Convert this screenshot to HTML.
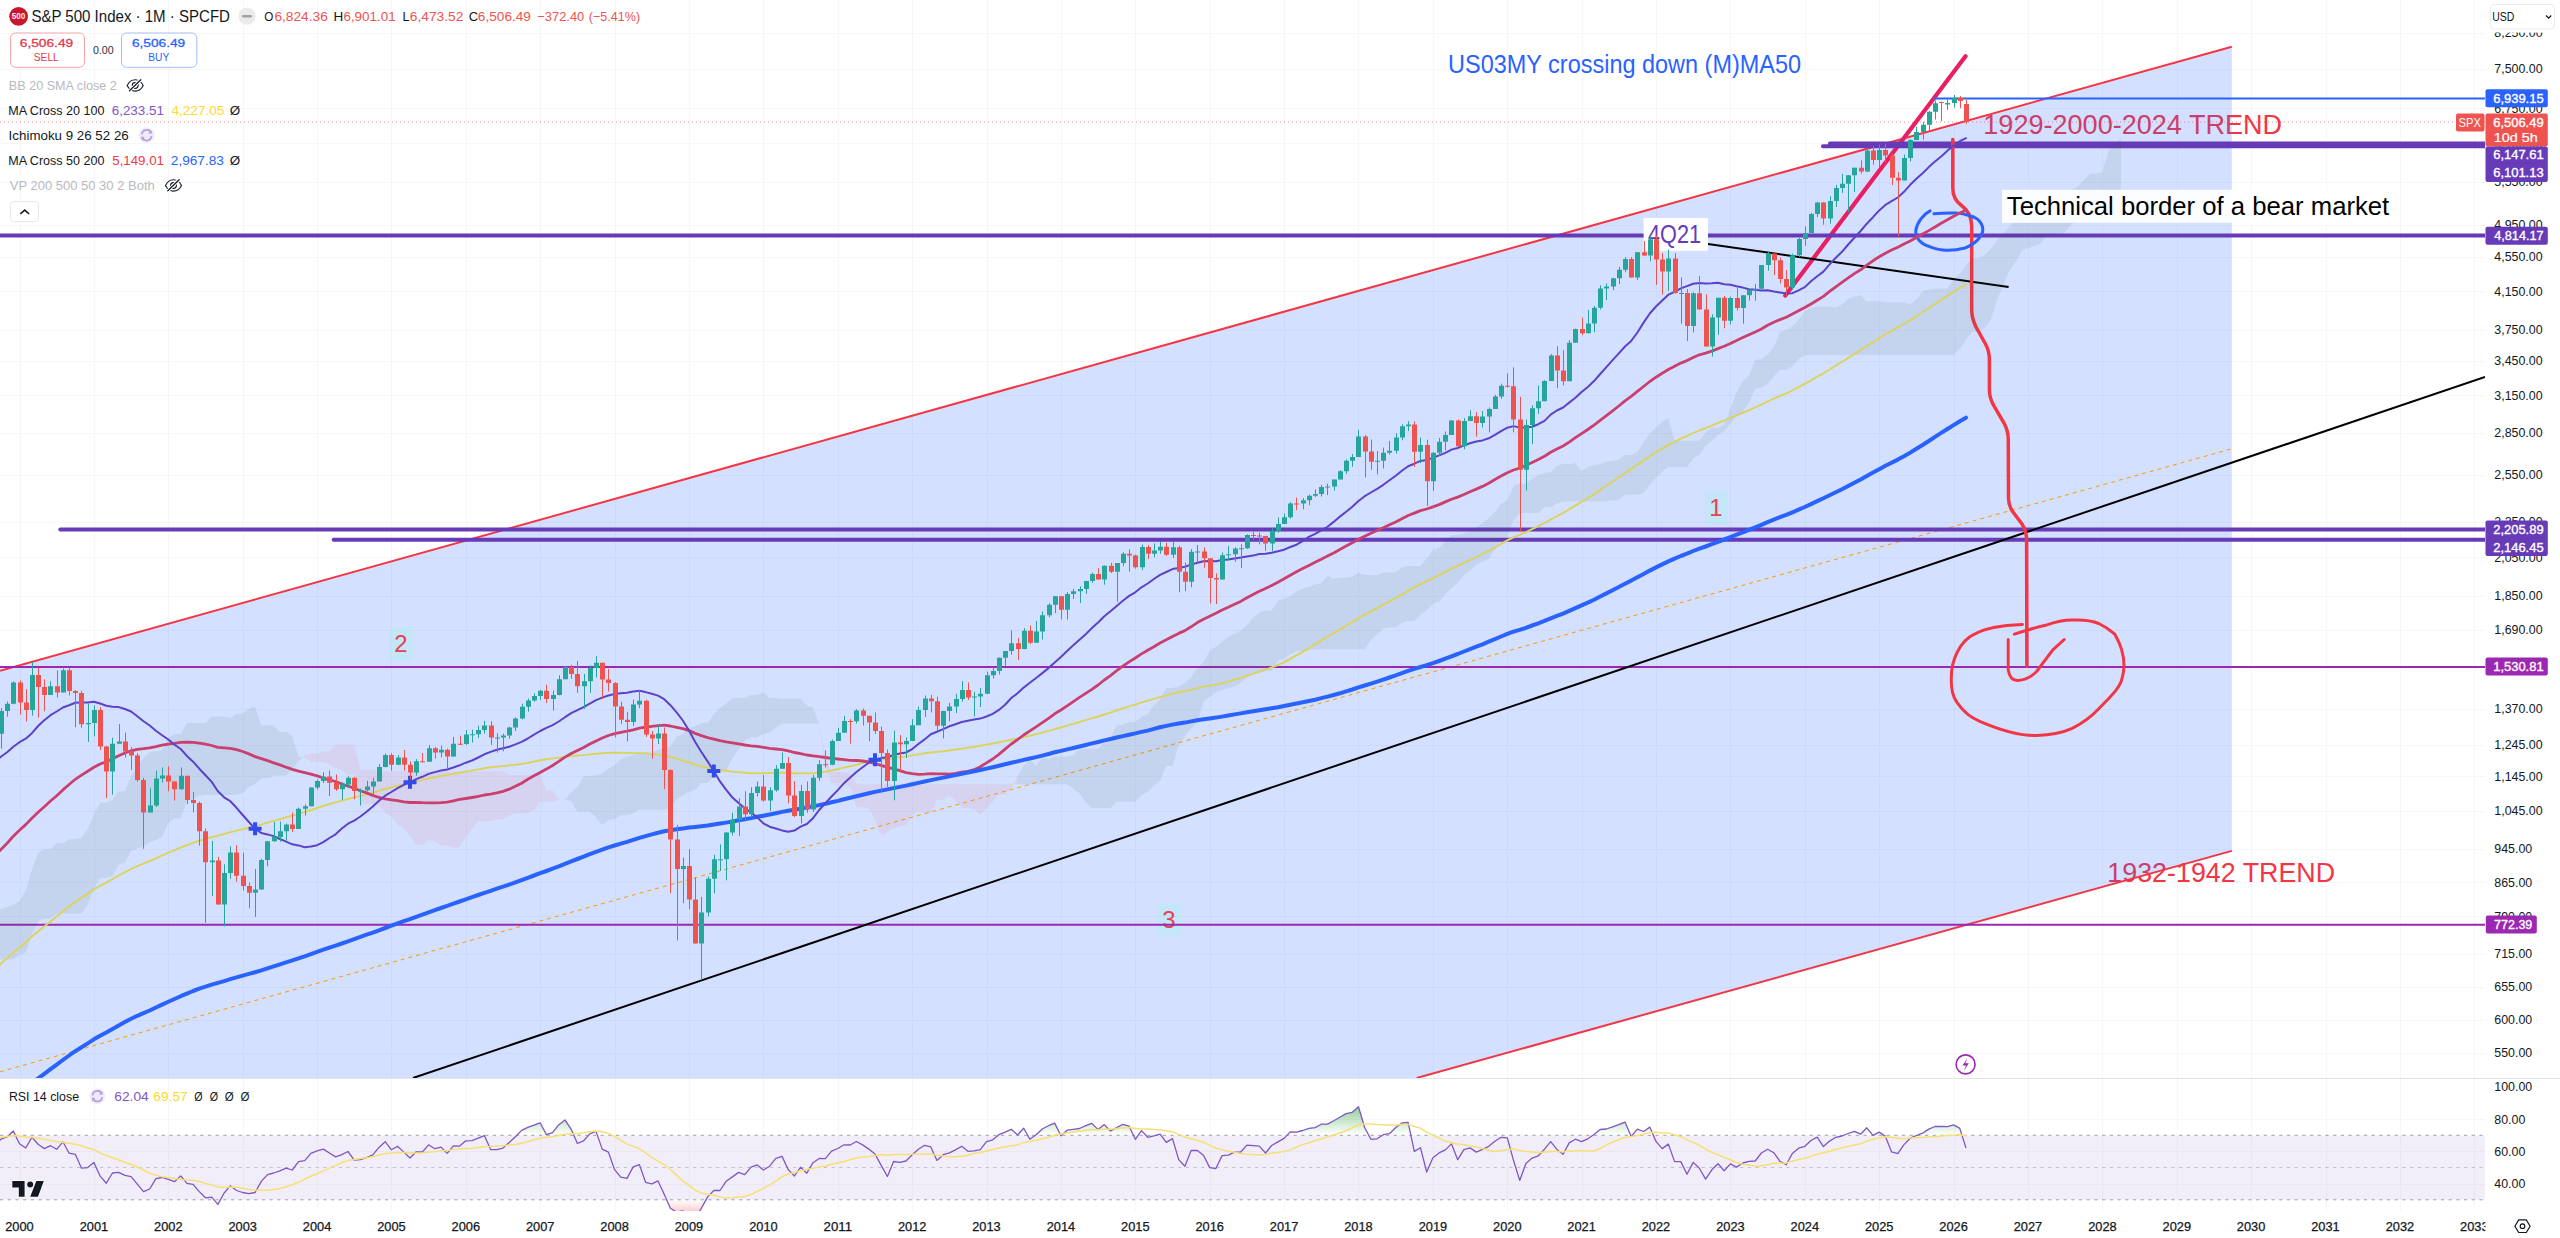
<!DOCTYPE html>
<html><head><meta charset="utf-8"><title>S&amp;P 500 Index chart</title>
<style>html,body{margin:0;padding:0;background:#fff;width:2560px;height:1238px;overflow:hidden}</style>
</head><body>
<svg width="2560" height="1238" viewBox="0 0 2560 1238" style="display:block;font-family:'Liberation Sans',sans-serif">
<rect width="2560" height="1238" fill="#ffffff"/>
<defs><clipPath id="cm"><rect x="0" y="0" width="2485" height="1078"/></clipPath><clipPath id="cr"><rect x="0" y="1079" width="2485" height="132"/></clipPath><linearGradient id="obg" gradientUnits="userSpaceOnUse" x1="0" y1="1086.9" x2="0" y2="1135.3"><stop offset="0" stop-color="#4caf50" stop-opacity="1"/><stop offset="1" stop-color="#4caf50" stop-opacity="0"/></linearGradient><linearGradient id="osg" gradientUnits="userSpaceOnUse" x1="0" y1="1199.8" x2="0" y2="1248.2"><stop offset="0" stop-color="#f23645" stop-opacity="0"/><stop offset="1" stop-color="#f23645" stop-opacity="1"/></linearGradient></defs>
<path d="M0 33.5H2485M0 69.5H2485M0 108.5H2485M0 143.5H2485M0 182.5H2485M0 225.5H2485M0 257.5H2485M0 291.5H2485M0 330.5H2485M0 361.5H2485M0 395.5H2485M0 433.5H2485M0 475.5H2485M0 522.5H2485M0 557.5H2485M0 596.5H2485M0 630.5H2485M0 667.5H2485M0 709.5H2485M0 745.5H2485M0 776.5H2485M0 811.5H2485M0 849.5H2485M0 882.5H2485M0 916.5H2485M0 954.5H2485M0 987.5H2485M0 1020.5H2485M0 1053.5H2485M20.5 0V1211M94.5 0V1211M168.5 0V1211M243.5 0V1211M317.5 0V1211M391.5 0V1211M466.5 0V1211M540.5 0V1211M615.5 0V1211M689.5 0V1211M763.5 0V1211M838.5 0V1211M912.5 0V1211M987.5 0V1211M1061.5 0V1211M1135.5 0V1211M1210.5 0V1211M1284.5 0V1211M1358.5 0V1211M1433.5 0V1211M1507.5 0V1211M1582.5 0V1211M1656.5 0V1211M1730.5 0V1211M1805.5 0V1211M1879.5 0V1211M1954.5 0V1211M2028.5 0V1211M2102.5 0V1211M2177.5 0V1211M2251.5 0V1211M2326.5 0V1211M2400.5 0V1211M2474.5 0V1211M0 1119.5H2485M0 1151.5H2485M0 1184.5H2485" stroke="#f7f7f8" stroke-width="1" fill="none"/>
<g clip-path="url(#cm)">
<text x="1983.30" y="133.8" font-size="28.5" font-weight="normal" fill="#f23645" textLength="298.83" lengthAdjust="spacingAndGlyphs" >1929-2000-2024 TREND</text>
<text x="2107.29" y="881.5" font-size="28.2" font-weight="normal" fill="#f23645" textLength="227.87" lengthAdjust="spacingAndGlyphs" >1932-1942 TREND</text>
<polygon points="0,670.8 2231.8,46.7 2231.8,850.9 1416.7,1078 0,1078" fill="rgba(41,98,255,0.2)"/>
<line x1="0" y1="670.8" x2="2231.8" y2="46.7" stroke="#f23645" stroke-width="2"/>
<line x1="1416.7" y1="1078" x2="2231.8" y2="850.9" stroke="#f23645" stroke-width="2"/>
<line x1="0" y1="1071.8" x2="2231.8" y2="448.8" stroke="#ff9800" stroke-width="1" stroke-dasharray="4 4"/>
<line x1="1785.3" y1="295.6" x2="1965.5" y2="56.3" stroke="#e91e63" stroke-width="4.2" stroke-linecap="round"/>
<rect x="1704.7" y="491" width="23.3" height="33" fill="rgba(178,235,242,0.5)"/>
<text x="1716" y="516" font-size="24" fill="#e8404f" text-anchor="middle">1</text>
<rect x="389" y="627" width="24" height="33" fill="rgba(178,235,242,0.5)"/>
<text x="401" y="652" font-size="24" fill="#e8404f" text-anchor="middle">2</text>
<rect x="1157" y="903" width="24" height="33" fill="rgba(178,235,242,0.5)"/>
<text x="1169" y="928" font-size="24" fill="#e8404f" text-anchor="middle">3</text>
<line x1="0" y1="667.1" x2="2485" y2="667.1" stroke="#9c27b0" stroke-width="2"/>
<line x1="0" y1="924.8" x2="2485" y2="924.8" stroke="#9c27b0" stroke-width="2"/>
<line x1="0" y1="235.5" x2="2485" y2="235.5" stroke="#673ab7" stroke-width="4"/>
<line x1="60.3" y1="529.5" x2="2485" y2="529.5" stroke="#673ab7" stroke-width="4" stroke-linecap="round"/>
<line x1="333.7" y1="539.8" x2="2485" y2="539.8" stroke="#673ab7" stroke-width="4" stroke-linecap="round"/>
<line x1="1823" y1="146.3" x2="2485" y2="146.3" stroke="#673ab7" stroke-width="4" stroke-linecap="round"/>
<line x1="1830" y1="143.4" x2="2485" y2="143.4" stroke="#673ab7" stroke-width="4" stroke-linecap="round"/>
<line x1="1933" y1="98.6" x2="2485" y2="98.6" stroke="#2962ff" stroke-width="2"/>
<line x1="0" y1="122.0" x2="2485" y2="122.0" stroke="#f23645" stroke-width="1" stroke-dasharray="1 3" opacity="0.6"/>
<line x1="413" y1="1078" x2="2485" y2="377" stroke="#000000" stroke-width="2"/>
<line x1="1708" y1="244" x2="2008.6" y2="287" stroke="#000000" stroke-width="2"/>
<path d="M1952.8 139.5 L1952.8 188 Q1952.8 199 1961 205 Q1971.7 213 1971.7 226 L1971.7 310 Q1971.7 318 1976 327 L1985.5 344 Q1989.4 351 1989.4 360 L1989.4 390 Q1989.4 398 1994 406 L2004 423 Q2008.3 431 2008.3 440 L2008.5 498 Q2008.5 506 2013 512 L2022 524 Q2026.5 531 2026.6 540 L2026.9 666.2" fill="none" stroke="#f23645" stroke-width="3.5" stroke-linejoin="round" stroke-linecap="round"/>
<path d="M2008.2 639.5 L2008.2 669.7 Q2010 681 2018 680.4 Q2028 680 2036.6 671.5 L2052.6 650.2 L2064.2 639.5" fill="none" stroke="#f23645" stroke-width="3" stroke-linecap="round" stroke-linejoin="round"/>
<path d="M2022.4 624.4 C2005 625 1985 628 1974.4 634.2 C1960 641 1951 660 1951.3 678.6 C1951 690 1953 697 1956.7 702 C1965 714 1972 718 1979.8 721.3 C2000 730 2020 736 2036.6 735.5 C2052 735 2062 733 2072.2 728.4 C2085 722 2092 716 2098.8 708.8 C2110 697 2120 688 2122 678.6 C2126 665 2124 650 2114.8 634.2 C2108 628 2104 626 2098.8 623.5 C2088 619 2080 620 2072.2 620 C2060 620 2052 623 2045.5 625.3 C2033 628 2024 631 2014.4 634.2" fill="none" stroke="#f23645" stroke-width="3" stroke-linecap="round"/>
<path d="M1930.1 210.9 C1924 214 1917 222 1915.8 230.5 C1915 238 1921 244 1930.1 246.8 C1936 249 1941 250.2 1946.1 250.2 C1954 250.5 1961 249 1965 248 C1971 246 1980 240 1982.6 232 C1984 224 1978 218 1970.8 216 C1966 214.5 1961 213.3 1956.3 213.1 C1948 212.8 1940 213.2 1934 213.8" fill="none" stroke="#2962ff" stroke-width="3" stroke-linecap="round"/>
<rect x="1643.6" y="218" width="64.4" height="32.8" fill="#ffffff"/>
<text x="1648.00" y="242.9" font-size="25" font-weight="normal" fill="#673ab7" textLength="53.02" lengthAdjust="spacingAndGlyphs" >4Q21</text>
<text x="1448.11" y="73.4" font-size="24.9" font-weight="normal" fill="#2962ff" textLength="352.98" lengthAdjust="spacingAndGlyphs" >US03MY crossing down (M)MA50</text>
<circle cx="1965.6" cy="1064.4" r="9.5" fill="#ffffff" stroke="#9c27b0" stroke-width="1.6"/>
<path d="M1967.5 1058 L1962.5 1065.5 L1966 1065.5 L1963.8 1071 L1968.8 1063.2 L1965.3 1063.2 Z" fill="#9c27b0"/>
<polygon points="-23.9,953.8 -17.7,937.9 -11.5,916.2 -5.3,910.8 0.9,908.8 7.1,906.9 13.3,904.5 19.5,900.9 25.7,891.1 31.9,869.8 38.1,853.0 44.3,849.1 50.5,849.1 56.7,843.2 62.9,843.2 69.1,839.3 75.3,839.1 81.5,838.0 87.7,828.9 93.9,814.8 100.1,802.5 106.3,802.5 112.5,799.9 118.7,791.3 124.9,791.3 131.1,776.3 137.3,766.1 143.5,758.2 149.7,752.1 155.9,751.4 162.1,750.3 168.3,737.7 174.5,734.1 180.7,734.0 186.9,723.1 193.1,723.1 199.3,723.1 205.5,723.1 211.7,716.6 217.9,716.6 224.1,716.6 230.3,718.0 236.5,714.1 242.7,713.4 248.9,709.0 255.1,706.5 261.3,725.4 267.5,725.4 273.7,725.4 279.9,731.9 286.1,732.1 292.3,735.7 298.5,756.8 304.7,757.3 304.7,755.6 298.5,761.3 292.3,768.6 286.1,775.7 279.9,775.7 273.7,775.7 267.5,778.3 261.3,778.3 255.1,784.1 248.9,787.1 242.7,793.0 236.5,795.0 230.3,795.0 224.1,795.0 217.9,795.0 211.7,795.0 205.5,795.0 199.3,795.7 193.1,799.1 186.9,800.9 180.7,818.6 174.5,818.6 168.3,822.9 162.1,836.9 155.9,840.1 149.7,842.3 143.5,845.9 137.3,848.6 131.1,851.2 124.9,862.4 118.7,864.7 112.5,876.3 106.3,877.8 100.1,877.8 93.9,889.1 87.7,904.2 81.5,913.5 75.3,913.5 69.1,913.5 62.9,913.5 56.7,913.5 50.5,918.8 44.3,918.8 38.1,921.3 31.9,934.4 25.7,952.5 19.5,955.1 13.3,959.2 7.1,959.5 0.9,959.5 -5.3,960.6 -11.5,960.6 -17.7,980.0 -23.9,991.1" fill="rgba(40,90,60,0.085)"/>
<polygon points="304.7,757.3 310.9,762.1 317.1,762.1 323.3,762.1 329.4,764.4 335.6,768.3 341.8,769.9 348.0,775.2 354.2,774.5 360.4,804.0 366.6,804.0 372.8,804.0 379.0,805.5 385.2,813.5 391.4,816.1 397.6,825.1 403.8,828.3 410.0,835.9 416.2,844.9 422.4,844.9 428.6,840.0 434.8,840.9 441.0,845.6 447.2,845.2 453.4,848.0 459.6,847.1 465.8,836.6 472.0,829.1 478.2,821.3 484.4,821.1 490.6,820.9 496.8,819.8 503.0,819.0 509.2,815.7 515.4,813.4 521.6,813.2 527.8,813.2 534.0,809.6 540.2,801.7 546.4,801.6 552.6,801.6 558.8,799.6 565.0,799.6 565.0,799.9 558.8,798.9 552.6,790.4 546.4,790.1 540.2,775.0 534.0,775.0 527.8,775.0 521.6,775.0 515.4,775.0 509.2,775.0 503.0,771.3 496.8,771.3 490.6,771.3 484.4,771.3 478.2,771.3 472.0,771.3 465.8,771.3 459.6,771.3 453.4,771.3 447.2,771.3 441.0,771.3 434.8,771.3 428.6,771.3 422.4,771.3 416.2,771.3 410.0,771.3 403.8,771.3 397.6,771.3 391.4,771.3 385.2,771.3 379.0,771.3 372.8,770.1 366.6,770.1 360.4,770.1 354.2,744.8 348.0,744.8 341.8,744.8 335.6,745.1 329.4,751.2 323.3,751.2 317.1,753.4 310.9,753.4 304.7,755.6" fill="rgba(242,80,90,0.085)"/>
<polygon points="565.0,799.6 571.2,792.0 577.4,787.3 583.6,776.2 589.8,775.8 596.0,775.5 602.2,773.7 608.4,768.7 614.6,765.2 620.8,759.2 627.0,757.1 633.2,755.1 639.4,752.4 645.6,752.4 651.8,752.4 658.0,749.4 664.2,748.4 670.4,746.5 676.6,736.9 682.8,734.1 689.0,728.2 695.2,725.9 701.4,723.1 707.6,722.8 713.8,714.6 720.0,707.7 726.2,703.5 732.4,698.1 738.6,697.8 744.8,697.8 751.0,695.1 757.2,695.1 763.4,692.2 769.6,697.9 775.8,697.9 782.0,698.8 788.2,698.8 794.4,698.8 800.6,698.8 806.8,705.8 813.0,707.6 819.2,724.3 819.2,723.5 813.0,723.5 806.8,723.5 800.6,723.5 794.4,723.5 788.2,723.5 782.0,723.8 775.8,727.5 769.6,732.7 763.4,733.9 757.2,737.2 751.0,737.6 744.8,740.6 738.6,749.8 732.4,758.3 726.2,770.1 720.0,770.9 713.8,777.0 707.6,783.1 701.4,783.1 695.2,789.9 689.0,792.1 682.8,795.6 676.6,798.9 670.4,807.5 664.2,809.8 658.0,809.8 651.8,809.8 645.6,809.8 639.4,809.8 633.2,812.9 627.0,815.3 620.8,815.6 614.6,819.1 608.4,819.9 602.2,824.9 596.0,817.3 589.8,811.8 583.6,811.8 577.4,811.8 571.2,801.0 565.0,799.9" fill="rgba(40,90,60,0.085)"/>
<polygon points="819.2,724.3 825.4,767.1 831.6,783.3 837.8,783.3 844.0,783.3 850.2,787.3 856.4,807.1 862.6,807.1 868.8,807.9 875.0,820.3 881.2,835.4 887.4,832.2 893.6,828.3 899.8,826.5 906.0,825.3 912.2,814.9 918.4,810.9 924.6,813.0 930.8,813.1 937.0,799.8 943.2,799.8 949.4,796.2 955.5,800.1 961.7,808.1 967.9,808.1 974.1,808.9 980.3,815.3 986.5,808.8 992.7,801.7 998.9,794.3 1005.1,794.3 1011.3,787.8 1017.5,777.0 1017.5,784.3 1011.3,784.3 1005.1,784.3 998.9,784.3 992.7,784.3 986.5,784.3 980.3,784.3 974.1,784.3 967.9,784.3 961.7,784.3 955.5,784.3 949.4,784.3 943.2,784.3 937.0,784.3 930.8,784.3 924.6,784.3 918.4,784.3 912.2,784.3 906.0,784.3 899.8,784.3 893.6,784.3 887.4,784.3 881.2,784.3 875.0,784.3 868.8,784.3 862.6,784.3 856.4,784.3 850.2,773.1 844.0,772.1 837.8,772.1 831.6,772.1 825.4,756.3 819.2,723.5" fill="rgba(242,80,90,0.085)"/>
<polygon points="1017.5,777.0 1023.7,765.6 1029.9,760.1 1036.1,765.8 1042.3,757.2 1048.5,759.2 1054.7,756.6 1060.9,756.6 1067.1,756.6 1073.3,755.5 1079.5,749.1 1085.7,748.8 1091.9,748.8 1098.1,748.8 1104.3,742.5 1110.5,738.5 1116.7,725.2 1122.9,724.4 1129.1,722.1 1135.3,722.1 1141.5,716.8 1147.7,714.3 1153.9,704.8 1160.1,699.8 1166.3,687.9 1172.5,687.9 1178.7,686.6 1184.9,683.0 1191.1,677.2 1197.3,667.9 1203.5,662.2 1209.7,650.9 1215.9,646.8 1222.1,641.5 1228.3,636.6 1234.5,633.9 1240.7,630.4 1246.9,624.9 1253.1,617.5 1259.3,612.8 1265.5,610.4 1271.7,610.4 1277.9,600.4 1284.1,598.6 1290.3,596.6 1296.5,591.5 1302.7,588.5 1308.9,587.0 1315.1,584.4 1321.3,583.2 1327.5,575.8 1333.7,578.7 1339.9,577.7 1346.1,577.4 1352.3,576.7 1358.5,572.4 1364.7,575.0 1370.9,575.2 1377.1,575.2 1383.3,572.5 1389.5,572.5 1395.7,572.3 1401.9,567.5 1408.1,566.1 1414.3,566.1 1420.5,566.1 1426.7,558.5 1432.9,549.9 1439.1,547.8 1445.3,541.5 1451.5,535.0 1457.7,535.0 1463.9,533.4 1470.1,530.4 1476.3,527.8 1482.5,522.9 1488.7,518.3 1494.9,511.9 1501.1,503.8 1507.3,500.6 1513.5,485.8 1519.7,483.8 1525.9,483.7 1532.1,478.8 1538.3,475.5 1544.5,472.8 1550.7,472.3 1556.9,465.7 1563.1,464.0 1569.2,464.0 1575.4,463.3 1581.6,470.7 1587.8,467.0 1594.0,465.1 1600.2,464.0 1606.4,461.6 1612.6,460.9 1618.8,459.6 1625.0,455.1 1631.2,455.1 1637.4,451.7 1643.6,442.0 1649.8,433.7 1656.0,427.3 1662.2,421.5 1668.4,418.0 1674.6,440.7 1680.8,440.7 1687.0,440.7 1693.2,440.7 1699.4,440.7 1705.6,432.6 1711.8,427.7 1718.0,427.7 1724.2,424.0 1730.4,408.7 1736.6,392.3 1742.8,380.9 1749.0,375.5 1755.2,360.0 1761.4,358.9 1767.6,354.8 1773.8,347.1 1780.0,332.0 1786.2,330.1 1792.4,326.6 1798.6,319.7 1804.8,310.9 1811.0,308.0 1817.2,306.6 1823.4,306.6 1829.6,306.6 1835.8,307.8 1842.0,304.3 1848.2,298.9 1854.4,296.6 1860.6,295.2 1866.8,301.6 1873.0,301.0 1879.2,301.2 1885.4,302.3 1891.6,302.3 1897.8,302.3 1904.0,302.3 1910.2,304.5 1916.4,299.4 1922.6,291.0 1928.8,289.6 1935.0,288.7 1941.2,288.6 1947.4,288.6 1953.6,279.1 1959.8,273.6 1966.0,264.8 1972.2,258.3 1978.4,258.3 1984.6,255.1 1990.8,248.4 1997.0,240.6 2003.2,233.2 2009.4,226.8 2015.6,219.5 2021.8,211.3 2028.0,205.5 2034.2,203.1 2040.4,199.0 2046.6,198.9 2052.8,204.5 2059.0,200.2 2065.2,197.8 2071.4,189.5 2077.6,186.7 2083.8,180.1 2090.0,173.8 2096.2,173.8 2102.4,172.0 2108.6,151.1 2114.8,144.4 2121.0,137.4 2121.0,203.5 2114.8,203.5 2108.6,203.5 2102.4,206.4 2096.2,207.1 2090.0,207.1 2083.8,214.1 2077.6,221.2 2071.4,224.3 2065.2,232.4 2059.0,235.1 2052.8,235.1 2046.6,235.1 2040.4,243.9 2034.2,246.1 2028.0,248.2 2021.8,250.4 2015.6,261.8 2009.4,270.9 2003.2,285.3 1997.0,299.9 1990.8,319.8 1984.6,327.9 1978.4,331.8 1972.2,331.8 1966.0,339.6 1959.8,349.0 1953.6,355.0 1947.4,355.0 1941.2,355.0 1935.0,355.0 1928.8,355.0 1922.6,355.0 1916.4,355.0 1910.2,355.0 1904.0,355.0 1897.8,355.0 1891.6,355.0 1885.4,355.0 1879.2,355.0 1873.0,355.0 1866.8,355.0 1860.6,355.0 1854.4,355.0 1848.2,355.0 1842.0,355.0 1835.8,355.0 1829.6,355.0 1823.4,355.0 1817.2,355.0 1811.0,355.0 1804.8,355.6 1798.6,359.1 1792.4,366.5 1786.2,370.0 1780.0,370.0 1773.8,376.6 1767.6,383.9 1761.4,387.6 1755.2,388.8 1749.0,402.5 1742.8,411.5 1736.6,416.5 1730.4,423.6 1724.2,431.0 1718.0,434.8 1711.8,441.0 1705.6,446.0 1699.4,454.4 1693.2,458.7 1687.0,467.3 1680.8,467.3 1674.6,467.3 1668.4,467.3 1662.2,471.4 1656.0,478.0 1649.8,485.1 1643.6,493.0 1637.4,494.7 1631.2,494.7 1625.0,494.7 1618.8,499.8 1612.6,500.5 1606.4,500.9 1600.2,501.6 1594.0,501.6 1587.8,501.6 1581.6,501.6 1575.4,501.6 1569.2,501.6 1563.1,501.6 1556.9,503.5 1550.7,507.0 1544.5,507.0 1538.3,512.9 1532.1,512.9 1525.9,512.9 1519.7,512.9 1513.5,520.4 1507.3,536.7 1501.1,540.6 1494.9,549.2 1488.7,558.9 1482.5,561.6 1476.3,564.5 1470.1,570.7 1463.9,575.5 1457.7,583.1 1451.5,587.9 1445.3,594.2 1439.1,601.5 1432.9,603.9 1426.7,610.6 1420.5,614.8 1414.3,621.0 1408.1,621.0 1401.9,622.7 1395.7,627.4 1389.5,627.4 1383.3,628.4 1377.1,634.5 1370.9,639.7 1364.7,649.3 1358.5,649.3 1352.3,649.3 1346.1,649.3 1339.9,649.3 1333.7,649.3 1327.5,649.3 1321.3,649.3 1315.1,649.3 1308.9,650.3 1302.7,651.2 1296.5,651.2 1290.3,654.2 1284.1,658.2 1277.9,660.5 1271.7,671.0 1265.5,671.0 1259.3,672.8 1253.1,674.5 1246.9,677.4 1240.7,682.9 1234.5,686.5 1228.3,688.2 1222.1,690.3 1215.9,692.6 1209.7,697.1 1203.5,701.8 1197.3,722.3 1191.1,728.8 1184.9,736.1 1178.7,745.3 1172.5,765.9 1166.3,765.9 1160.1,780.6 1153.9,785.3 1147.7,792.1 1141.5,795.2 1135.3,801.7 1129.1,801.7 1122.9,801.7 1116.7,801.7 1110.5,807.9 1104.3,807.9 1098.1,807.9 1091.9,807.9 1085.7,802.4 1079.5,793.3 1073.3,788.9 1067.1,784.3 1060.9,784.3 1054.7,784.3 1048.5,784.3 1042.3,784.3 1036.1,784.3 1029.9,784.3 1023.7,784.3 1017.5,784.3" fill="rgba(40,90,60,0.085)"/>
<polyline points="-17.7,979.3 -11.5,974.0 -5.3,969.1 0.9,963.7 7.1,958.3 13.3,952.6 19.5,947.4 25.7,942.3 31.9,936.6 38.1,931.5 44.3,926.5 50.5,921.4 56.7,916.5 62.9,911.3 69.1,906.5 75.3,901.8 81.5,897.7 87.7,893.6 93.9,889.4 100.1,885.8 106.3,882.6 112.5,879.0 118.7,875.5 124.9,872.2 131.1,869.0 137.3,866.1 143.5,863.6 149.7,861.1 155.9,858.3 162.1,855.5 168.3,852.8 174.5,850.2 180.7,847.5 186.9,845.1 193.1,842.8 199.3,840.7 205.5,838.9 211.7,837.1 217.9,835.7 224.1,834.0 230.3,832.2 236.5,830.6 242.7,829.2 248.9,827.8 255.1,826.3 261.3,824.6 267.5,822.7 273.7,820.9 279.9,819.1 286.1,817.3 292.3,815.6 298.5,813.8 304.7,812.0 310.9,810.0 317.1,808.0 323.3,806.0 329.4,804.2 335.6,802.4 341.8,800.7 348.0,799.0 354.2,797.4 360.4,795.8 366.6,794.3 372.8,792.7 379.0,790.9 385.2,789.0 391.4,787.3 397.6,785.6 403.8,784.2 410.0,782.8 416.2,781.4 422.4,780.1 428.6,778.5 434.8,777.1 441.0,775.9 447.2,774.8 453.4,773.9 459.6,772.7 465.8,771.6 472.0,770.4 478.2,769.4 484.4,768.3 490.6,767.3 496.8,766.6 503.0,766.1 509.2,765.4 515.4,764.7 521.6,763.9 527.8,763.0 534.0,761.5 540.2,760.2 546.4,759.2 552.6,758.4 558.8,757.6 565.0,756.8 571.2,756.0 577.4,755.5 583.6,755.1 589.8,754.4 596.0,753.8 602.2,753.3 608.4,752.9 614.6,752.6 620.8,752.7 627.0,752.9 633.2,753.1 639.4,753.1 645.6,753.4 651.8,754.1 658.0,754.6 664.2,755.4 670.4,756.9 676.6,758.6 682.8,760.6 689.0,762.5 695.2,764.7 701.4,766.3 707.6,767.8 713.8,769.2 720.0,770.3 726.2,770.8 732.4,771.6 738.6,772.2 744.8,772.8 751.0,773.2 757.2,773.3 763.4,773.1 769.6,773.0 775.8,772.9 782.0,772.8 788.2,772.9 794.4,773.2 800.6,773.3 806.8,773.4 813.0,773.2 819.2,772.5 825.4,771.7 831.6,770.5 837.8,769.0 844.0,767.6 850.2,766.3 856.4,764.8 862.6,763.2 868.8,761.7 875.0,760.3 881.2,759.4 887.4,758.8 893.6,758.0 899.8,757.2 906.0,756.4 912.2,755.4 918.4,754.4 924.6,753.3 930.8,752.5 937.0,751.9 943.2,751.2 949.4,750.5 955.5,749.5 961.7,748.6 967.9,747.7 974.1,746.8 980.3,745.8 986.5,744.6 992.7,743.5 998.9,742.3 1005.1,741.1 1011.3,739.8 1017.5,738.6 1023.7,737.1 1029.9,735.7 1036.1,734.2 1042.3,732.6 1048.5,730.9 1054.7,729.1 1060.9,727.5 1067.1,725.6 1073.3,723.8 1079.5,722.0 1085.7,720.2 1091.9,718.3 1098.1,716.5 1104.3,714.5 1110.5,712.6 1116.7,710.5 1122.9,708.3 1129.1,706.3 1135.3,704.5 1141.5,702.5 1147.7,700.7 1153.9,698.9 1160.1,697.1 1166.3,695.4 1172.5,693.6 1178.7,692.3 1184.9,691.2 1191.1,689.7 1197.3,688.1 1203.5,686.6 1209.7,685.6 1215.9,684.6 1222.1,683.1 1228.3,681.6 1234.5,679.7 1240.7,677.8 1246.9,675.6 1253.1,673.7 1259.3,671.7 1265.5,669.6 1271.7,667.3 1277.9,665.0 1284.1,662.3 1290.3,658.9 1296.5,655.4 1302.7,651.9 1308.9,648.1 1315.1,644.2 1321.3,640.4 1327.5,636.7 1333.7,633.1 1339.9,629.4 1346.1,625.7 1352.3,622.1 1358.5,618.2 1364.7,614.6 1370.9,611.3 1377.1,608.1 1383.3,604.7 1389.5,601.3 1395.7,597.9 1401.9,594.5 1408.1,590.8 1414.3,587.4 1420.5,584.1 1426.7,581.2 1432.9,578.2 1439.1,575.1 1445.3,571.9 1451.5,568.7 1457.7,565.9 1463.9,562.9 1470.1,559.8 1476.3,557.0 1482.5,554.0 1488.7,550.9 1494.9,547.5 1501.1,543.9 1507.3,540.3 1513.5,537.3 1519.7,534.9 1525.9,532.1 1532.1,529.1 1538.3,526.2 1544.5,523.0 1550.7,519.5 1556.9,516.1 1563.1,513.0 1569.2,509.3 1575.4,505.6 1581.6,501.9 1587.8,498.2 1594.0,494.2 1600.2,489.9 1606.4,485.8 1612.6,481.5 1618.8,477.3 1625.0,473.0 1631.2,469.1 1637.4,464.7 1643.6,460.6 1649.8,456.2 1656.0,452.2 1662.2,448.6 1668.4,444.9 1674.6,441.8 1680.8,438.6 1687.0,436.0 1693.2,433.0 1699.4,430.3 1705.6,428.1 1711.8,425.6 1718.0,422.9 1724.2,420.5 1730.4,417.8 1736.6,415.4 1742.8,412.8 1749.0,410.2 1755.2,407.5 1761.4,404.6 1767.6,401.5 1773.8,398.6 1780.0,395.9 1786.2,393.4 1792.4,390.5 1798.6,387.2 1804.8,383.8 1811.0,380.3 1817.2,376.7 1823.4,373.3 1829.6,369.5 1835.8,365.6 1842.0,361.8 1848.2,357.9 1854.4,354.0 1860.6,350.1 1866.8,346.0 1873.0,342.2 1879.2,338.2 1885.4,334.2 1891.6,330.8 1897.8,327.5 1904.0,323.8 1910.2,320.1 1916.4,316.2 1922.6,312.3 1928.8,308.2 1935.0,304.0 1941.2,299.9 1947.4,295.9 1953.6,291.8 1959.8,288.0 1966.0,284.5" fill="none" stroke="#dcd35a" stroke-width="1.9" stroke-linejoin="round" stroke-linecap="round"/>
<polyline points="-17.7,868.3 -11.5,861.9 -5.3,856.0 0.9,849.5 7.1,843.2 13.3,836.3 19.5,830.2 25.7,824.6 31.9,818.2 38.1,812.3 44.3,806.7 50.5,801.0 56.7,795.7 62.9,789.9 69.1,784.5 75.3,779.3 81.5,775.2 87.7,771.2 93.9,767.2 100.1,764.0 106.3,761.7 112.5,758.8 118.7,755.7 124.9,753.0 131.1,750.8 137.3,749.3 143.5,748.7 149.7,747.8 155.9,746.6 162.1,745.2 168.3,744.1 174.5,743.3 180.7,742.3 186.9,742.1 193.1,742.3 199.3,743.1 205.5,744.2 211.7,745.5 217.9,747.3 224.1,747.8 230.3,748.3 236.5,749.6 242.7,751.5 248.9,753.9 255.1,756.6 261.3,758.6 267.5,760.6 273.7,762.9 279.9,764.9 286.1,767.2 292.3,769.3 298.5,771.1 304.7,772.6 310.9,774.2 317.1,775.9 323.3,778.0 329.4,779.8 335.6,781.5 341.8,784.0 348.0,786.1 354.2,788.3 360.4,790.7 366.6,792.9 372.8,795.5 379.0,797.4 385.2,798.9 391.4,799.8 397.6,800.6 403.8,801.9 410.0,802.5 416.2,802.3 422.4,802.7 428.6,802.8 434.8,802.9 441.0,802.7 447.2,802.2 453.4,800.8 459.6,799.4 465.8,798.5 472.0,797.5 478.2,796.4 484.4,795.0 490.6,794.1 496.8,792.8 503.0,791.3 509.2,789.2 515.4,786.3 521.6,783.2 527.8,779.3 534.0,775.8 540.2,772.5 546.4,769.1 552.6,765.5 558.8,761.4 565.0,757.1 571.2,753.5 577.4,750.4 583.6,747.4 589.8,744.1 596.0,740.9 602.2,738.0 608.4,735.5 614.6,733.6 620.8,732.3 627.0,731.2 633.2,729.8 639.4,728.2 645.6,727.2 651.8,726.4 658.0,725.6 664.2,725.2 670.4,726.0 676.6,727.3 682.8,728.6 689.0,730.6 695.2,733.4 701.4,735.6 707.6,737.6 713.8,739.1 720.0,740.6 726.2,741.8 732.4,742.8 738.6,743.9 744.8,745.0 751.0,745.8 757.2,746.4 763.4,747.4 769.6,748.3 775.8,749.0 782.0,749.6 788.2,750.8 794.4,752.5 800.6,753.6 806.8,755.0 813.0,755.8 819.2,756.6 825.4,757.5 831.6,758.3 837.8,759.0 844.0,759.6 850.2,760.3 856.4,760.5 862.6,761.0 868.8,762.0 875.0,763.6 881.2,765.4 887.4,767.4 893.6,768.9 899.8,770.7 906.0,772.6 912.2,773.7 918.4,774.3 924.6,774.1 930.8,773.7 937.0,773.8 943.2,773.9 949.4,774.1 955.5,773.3 961.7,772.1 967.9,771.3 974.1,769.7 980.3,766.7 986.5,762.9 992.7,759.0 998.9,754.4 1005.1,749.1 1011.3,744.0 1017.5,739.6 1023.7,735.0 1029.9,730.9 1036.1,726.8 1042.3,722.6 1048.5,718.4 1054.7,713.8 1060.9,710.0 1067.1,705.9 1073.3,701.6 1079.5,697.4 1085.7,693.4 1091.9,689.4 1098.1,685.0 1104.3,680.0 1110.5,675.6 1116.7,670.7 1122.9,666.2 1129.1,661.9 1135.3,658.0 1141.5,653.9 1147.7,650.2 1153.9,646.7 1160.1,643.0 1166.3,639.8 1172.5,636.4 1178.7,633.4 1184.9,630.6 1191.1,626.8 1197.3,622.6 1203.5,619.2 1209.7,616.2 1215.9,613.3 1222.1,610.1 1228.3,607.2 1234.5,604.3 1240.7,601.4 1246.9,597.8 1253.1,594.5 1259.3,591.3 1265.5,588.5 1271.7,585.4 1277.9,582.2 1284.1,578.8 1290.3,575.2 1296.5,571.8 1302.7,568.5 1308.9,565.4 1315.1,562.3 1321.3,559.2 1327.5,556.0 1333.7,552.9 1339.9,549.5 1346.1,546.1 1352.3,542.8 1358.5,539.2 1364.7,536.2 1370.9,533.2 1377.1,530.5 1383.3,527.7 1389.5,524.8 1395.7,521.9 1401.9,518.7 1408.1,515.5 1414.3,513.1 1420.5,510.6 1426.7,509.0 1432.9,506.9 1439.1,504.6 1445.3,501.9 1451.5,499.3 1457.7,497.1 1463.9,494.5 1470.1,491.7 1476.3,489.1 1482.5,486.4 1488.7,483.2 1494.9,479.5 1501.1,476.1 1507.3,472.7 1513.5,470.0 1519.7,468.2 1525.9,465.3 1532.1,462.5 1538.3,459.6 1544.5,456.2 1550.7,452.3 1556.9,449.0 1563.1,446.0 1569.2,442.1 1575.4,437.7 1581.6,433.6 1587.8,429.5 1594.0,425.1 1600.2,420.4 1606.4,415.7 1612.6,410.9 1618.8,406.0 1625.0,400.9 1631.2,396.4 1637.4,391.4 1643.6,386.5 1649.8,381.5 1656.0,377.2 1662.2,373.3 1668.4,369.5 1674.6,366.3 1680.8,363.1 1687.0,360.6 1693.2,357.5 1699.4,354.8 1705.6,353.2 1711.8,351.1 1718.0,348.6 1724.2,346.2 1730.4,343.5 1736.6,340.4 1742.8,337.5 1749.0,334.7 1755.2,332.0 1761.4,329.0 1767.6,325.3 1773.8,322.2 1780.0,319.6 1786.2,317.2 1792.4,314.1 1798.6,310.8 1804.8,307.5 1811.0,304.0 1817.2,300.2 1823.4,296.4 1829.6,291.4 1835.8,286.8 1842.0,282.4 1848.2,277.9 1854.4,273.6 1860.6,269.8 1866.8,265.2 1873.0,260.8 1879.2,256.8 1885.4,253.2 1891.6,250.1 1897.8,247.2 1904.0,244.1 1910.2,240.9 1916.4,237.5 1922.6,234.1 1928.8,230.6 1935.0,227.0 1941.2,223.2 1947.4,219.8 1953.6,216.2 1959.8,213.1 1966.0,210.2" fill="none" stroke="#c9406e" stroke-width="2.8" stroke-linejoin="round" stroke-linecap="round"/>
<polyline points="-11.5,1116.8 -5.3,1112.2 0.9,1107.4 7.1,1102.5 13.3,1097.4 19.5,1092.7 25.7,1088.2 31.9,1083.2 38.1,1078.4 44.3,1073.9 50.5,1069.2 56.7,1064.7 62.9,1060.0 69.1,1055.5 75.3,1051.2 81.5,1047.3 87.7,1043.4 93.9,1039.3 100.1,1035.8 106.3,1032.5 112.5,1029.0 118.7,1025.5 124.9,1022.1 131.1,1018.8 137.3,1015.8 143.5,1013.2 149.7,1010.5 155.9,1007.5 162.1,1004.6 168.3,1001.8 174.5,999.0 180.7,996.2 186.9,993.6 193.1,991.0 199.3,988.7 205.5,986.7 211.7,984.6 217.9,982.9 224.1,981.1 230.3,979.1 236.5,977.3 242.7,975.6 248.9,973.9 255.1,972.2 261.3,970.4 267.5,968.4 273.7,966.4 279.9,964.4 286.1,962.3 292.3,960.4 298.5,958.3 304.7,956.3 310.9,954.1 317.1,951.9 323.3,949.7 329.4,947.6 335.6,945.6 341.8,943.5 348.0,941.3 354.2,939.1 360.4,936.9 366.6,934.7 372.8,932.6 379.0,930.3 385.2,928.0 391.4,925.7 397.6,923.4 403.8,921.2 410.0,919.1 416.2,916.9 422.4,914.7 428.6,912.4 434.8,910.2 441.0,908.0 447.2,905.9 453.4,903.7 459.6,901.5 465.8,899.4 472.0,897.2 478.2,895.0 484.4,892.9 490.6,890.8 496.8,888.7 503.0,886.7 509.2,884.6 515.4,882.4 521.6,880.1 527.8,877.8 534.0,875.5 540.2,873.2 546.4,871.0 552.6,868.7 558.8,866.3 565.0,863.8 571.2,861.3 577.4,859.0 583.6,856.6 589.8,854.2 596.0,851.8 602.2,849.6 608.4,847.4 614.6,845.5 620.8,843.6 627.0,841.8 633.2,839.8 639.4,837.9 645.6,836.1 651.8,834.4 658.0,832.8 664.2,831.3 670.4,830.3 676.6,829.3 682.8,828.4 689.0,827.6 695.2,827.0 701.4,826.3 707.6,825.5 713.8,824.5 720.0,823.6 726.2,822.6 732.4,821.5 738.6,820.3 744.8,819.2 751.0,818.1 757.2,816.8 763.4,815.7 769.6,814.5 775.8,813.2 782.0,811.9 788.2,810.7 794.4,809.7 800.6,808.6 806.8,807.5 813.0,806.3 819.2,805.1 825.4,803.8 831.6,802.3 837.8,800.9 844.0,799.3 850.2,797.8 856.4,796.3 862.6,794.8 868.8,793.3 875.0,791.9 881.2,790.6 887.4,789.4 893.6,788.1 899.8,786.9 906.0,785.6 912.2,784.3 918.4,782.9 924.6,781.5 930.8,780.1 937.0,778.9 943.2,777.6 949.4,776.4 955.5,775.1 961.7,773.7 967.9,772.5 974.1,771.2 980.3,770.0 986.5,768.6 992.7,767.3 998.9,765.8 1005.1,764.3 1011.3,762.8 1017.5,761.4 1023.7,759.9 1029.9,758.5 1036.1,757.1 1042.3,755.6 1048.5,754.0 1054.7,752.3 1060.9,750.9 1067.1,749.4 1073.3,748.0 1079.5,746.5 1085.7,745.0 1091.9,743.4 1098.1,742.0 1104.3,740.4 1110.5,739.0 1116.7,737.5 1122.9,736.1 1129.1,734.7 1135.3,733.4 1141.5,731.9 1147.7,730.6 1153.9,728.9 1160.1,727.3 1166.3,725.9 1172.5,724.6 1178.7,723.5 1184.9,722.6 1191.1,721.4 1197.3,720.3 1203.5,719.3 1209.7,718.4 1215.9,717.6 1222.1,716.6 1228.3,715.5 1234.5,714.4 1240.7,713.4 1246.9,712.3 1253.1,711.3 1259.3,710.2 1265.5,709.2 1271.7,708.2 1277.9,707.2 1284.1,706.0 1290.3,704.7 1296.5,703.5 1302.7,702.3 1308.9,701.0 1315.1,699.7 1321.3,698.1 1327.5,696.6 1333.7,695.0 1339.9,693.3 1346.1,691.3 1352.3,689.5 1358.5,687.4 1364.7,685.5 1370.9,683.6 1377.1,681.7 1383.3,679.6 1389.5,677.5 1395.7,675.4 1401.9,673.2 1408.1,670.9 1414.3,668.9 1420.5,667.0 1426.7,665.2 1432.9,663.2 1439.1,661.0 1445.3,658.7 1451.5,656.3 1457.7,654.0 1463.9,651.5 1470.1,649.1 1476.3,646.7 1482.5,644.3 1488.7,641.7 1494.9,639.1 1501.1,636.5 1507.3,633.9 1513.5,631.7 1519.7,629.9 1525.9,627.8 1532.1,625.5 1538.3,623.3 1544.5,620.9 1550.7,618.3 1556.9,615.9 1563.1,613.6 1569.2,610.9 1575.4,608.1 1581.6,605.4 1587.8,602.6 1594.0,599.7 1600.2,596.5 1606.4,593.4 1612.6,590.2 1618.8,587.0 1625.0,583.7 1631.2,580.6 1637.4,577.3 1643.6,574.0 1649.8,570.6 1656.0,567.4 1662.2,564.4 1668.4,561.4 1674.6,558.7 1680.8,556.0 1687.0,553.7 1693.2,551.0 1699.4,548.6 1705.6,546.5 1711.8,544.2 1718.0,541.8 1724.2,539.5 1730.4,537.1 1736.6,534.7 1742.8,532.3 1749.0,529.8 1755.2,527.4 1761.4,524.8 1767.6,522.1 1773.8,519.6 1780.0,517.2 1786.2,514.9 1792.4,512.3 1798.6,509.7 1804.8,507.0 1811.0,504.1 1817.2,501.1 1823.4,498.3 1829.6,495.3 1835.8,492.3 1842.0,489.2 1848.2,486.0 1854.4,482.7 1860.6,479.4 1866.8,475.9 1873.0,472.6 1879.2,469.2 1885.4,465.8 1891.6,462.7 1897.8,459.6 1904.0,456.3 1910.2,452.6 1916.4,448.8 1922.6,445.0 1928.8,441.0 1935.0,436.9 1941.2,432.9 1947.4,429.0 1953.6,425.1 1959.8,421.2 1966.0,417.7" fill="none" stroke="#2962ff" stroke-width="4" stroke-linejoin="round" stroke-linecap="round"/>
<polyline points="-17.7,772.1 -11.5,766.5 -5.3,761.7 0.9,756.7 7.1,752.3 13.3,746.8 19.5,742.2 25.7,738.7 31.9,733.2 38.1,726.0 44.3,720.2 50.5,715.2 56.7,711.5 62.9,707.5 69.1,705.3 75.3,702.8 81.5,702.4 87.7,702.6 93.9,701.7 100.1,703.5 106.3,705.8 112.5,706.8 118.7,707.1 124.9,709.0 131.1,711.5 137.3,716.2 143.5,721.2 149.7,725.5 155.9,730.7 162.1,735.2 168.3,739.5 174.5,744.7 180.7,749.0 186.9,755.9 193.1,761.7 199.3,768.7 205.5,775.2 211.7,781.9 217.9,791.2 224.1,797.3 230.3,801.2 236.5,807.8 242.7,815.0 248.9,822.0 255.1,828.8 261.3,833.0 267.5,834.4 273.7,836.1 279.9,839.0 286.1,841.7 292.3,844.3 298.5,845.4 304.7,847.2 310.9,846.5 317.1,845.2 323.3,842.1 329.4,838.0 335.6,834.3 341.8,828.5 348.0,823.7 354.2,820.6 360.4,816.5 366.6,811.8 372.8,806.6 379.0,800.8 385.2,795.7 391.4,792.0 397.6,788.1 403.8,784.8 410.0,782.3 416.2,779.1 422.4,776.8 428.6,773.9 434.8,772.1 441.0,770.5 447.2,769.5 453.4,767.5 459.6,765.3 465.8,762.7 472.0,760.5 478.2,757.5 484.4,754.3 490.6,751.9 496.8,749.7 503.0,748.2 509.2,746.8 515.4,744.4 521.6,741.8 527.8,738.5 534.0,734.6 540.2,731.0 546.4,727.9 552.6,725.2 558.8,721.5 565.0,717.2 571.2,713.1 577.4,710.2 583.6,707.1 589.8,703.7 596.0,700.1 602.2,697.6 608.4,695.5 614.6,694.1 620.8,693.3 627.0,692.7 633.2,691.6 639.4,690.8 645.6,692.1 651.8,693.8 658.0,695.6 664.2,699.2 670.4,705.2 676.6,712.4 682.8,720.5 689.0,730.6 695.2,742.0 701.4,752.0 707.6,761.4 713.8,771.1 720.0,781.4 726.2,789.8 732.4,797.5 738.6,803.1 744.8,808.3 751.0,812.4 757.2,817.4 763.4,823.4 769.6,826.7 775.8,828.5 782.0,830.4 788.2,831.8 794.4,830.6 800.6,826.7 806.8,824.0 813.0,818.2 819.2,810.0 825.4,803.2 831.6,796.5 837.8,790.1 844.0,783.2 850.2,777.6 856.4,772.0 862.6,767.3 868.8,762.8 875.0,759.7 881.2,758.1 887.4,757.2 893.6,754.9 899.8,753.6 906.0,752.5 912.2,749.1 918.4,744.0 924.6,739.4 930.8,734.3 937.0,731.8 943.2,729.2 949.4,726.3 955.5,724.2 961.7,722.0 967.9,720.8 974.1,719.5 980.3,718.6 986.5,716.5 992.7,713.8 998.9,709.9 1005.1,704.7 1011.3,698.0 1017.5,693.3 1023.7,687.6 1029.9,682.7 1036.1,678.0 1042.3,673.1 1048.5,668.1 1054.7,662.6 1060.9,656.9 1067.1,651.0 1073.3,645.2 1079.5,639.8 1085.7,634.3 1091.9,628.1 1098.1,622.5 1104.3,616.2 1110.5,611.2 1116.7,605.9 1122.9,600.7 1129.1,595.9 1135.3,592.3 1141.5,587.3 1147.7,583.5 1153.9,579.0 1160.1,574.9 1166.3,572.0 1172.5,569.1 1178.7,568.0 1184.9,566.7 1191.1,564.6 1197.3,562.7 1203.5,561.2 1209.7,561.0 1215.9,561.3 1222.1,560.1 1228.3,559.5 1234.5,558.4 1240.7,557.6 1246.9,556.6 1253.1,555.6 1259.3,554.0 1265.5,553.8 1271.7,552.7 1277.9,551.3 1284.1,549.7 1290.3,547.0 1296.5,544.7 1302.7,541.1 1308.9,536.8 1315.1,533.8 1321.3,530.4 1327.5,526.8 1333.7,521.9 1339.9,516.6 1346.1,511.7 1352.3,506.8 1358.5,501.0 1364.7,496.2 1370.9,492.5 1377.1,488.9 1383.3,484.8 1389.5,480.3 1395.7,475.7 1401.9,470.8 1408.1,466.2 1414.3,463.7 1420.5,460.9 1426.7,460.0 1432.9,457.9 1439.1,455.4 1445.3,452.9 1451.5,449.6 1457.7,448.0 1463.9,445.4 1470.1,443.2 1476.3,441.5 1482.5,440.4 1488.7,438.3 1494.9,434.9 1501.1,431.1 1507.3,427.7 1513.5,426.1 1519.7,427.6 1525.9,427.6 1532.1,426.7 1538.3,424.2 1544.5,420.9 1550.7,414.6 1556.9,410.5 1563.1,407.5 1569.2,402.6 1575.4,397.7 1581.6,392.0 1587.8,386.9 1594.0,381.1 1600.2,374.0 1606.4,367.1 1612.6,360.2 1618.8,353.4 1625.0,346.5 1631.2,340.9 1637.4,332.5 1643.6,322.6 1649.8,313.5 1656.0,306.5 1662.2,300.5 1668.4,294.7 1674.6,291.8 1680.8,288.4 1687.0,286.1 1693.2,283.8 1699.4,282.9 1705.6,283.5 1711.8,283.2 1718.0,282.7 1724.2,284.2 1730.4,284.8 1736.6,286.3 1742.8,287.6 1749.0,289.2 1755.2,289.7 1761.4,290.4 1767.6,290.3 1773.8,291.5 1780.0,292.5 1786.2,293.4 1792.4,293.2 1798.6,290.3 1804.8,287.1 1811.0,281.2 1817.2,276.3 1823.4,271.6 1829.6,264.4 1835.8,257.8 1842.0,251.8 1848.2,244.5 1854.4,237.8 1860.6,231.0 1866.8,223.7 1873.0,217.2 1879.2,210.4 1885.4,204.9 1891.6,201.2 1897.8,197.5 1904.0,191.8 1910.2,184.8 1916.4,178.8 1922.6,173.2 1928.8,167.1 1935.0,161.5 1941.2,156.4 1947.4,150.7 1953.6,145.5 1959.8,141.2 1966.0,138.2" fill="none" stroke="#5a43c8" stroke-width="2.0" stroke-linejoin="round" stroke-linecap="round"/>
<path d="M248.6 828.8h13M255.1 822.3v13M403.5 782.3h13M410.0 775.8v13M707.3 771.1h13M713.8 764.6v13M868.5 759.7h13M875.0 753.2v13" stroke="#2f4de8" stroke-width="4" fill="none"/>
<path d="M1.5 708.1V748.6M7.5 701.6V716.7M13.5 681.3V704.3M32.5 661.7V715.6M50.5 681.3V695.1M63.5 668.5V692.5M88.5 703.7V741.9M94.5 705.4V736.3M112.5 737.8V794.7M119.5 724.1V743.7M150.5 788.2V812.4M156.5 770.6V807.0M162.5 767.4V782.5M181.5 767.4V789.5M212.5 840.9V895.9M224.5 864.3V926.4M230.5 846.4V878.7M255.5 868.9V916.8M261.5 858.9V890.0M267.5 840.9V866.3M274.5 821.9V841.7M280.5 821.5V841.7M286.5 823.4V840.5M298.5 807.7V829.0M305.5 804.5V815.6M311.5 787.5V806.3M317.5 779.5V789.5M323.5 772.2V783.1M342.5 782.1V799.9M348.5 776.2V787.2M360.5 788.5V805.5M367.5 780.8V791.3M373.5 777.5V795.0M379.5 764.2V781.5M385.5 753.5V767.4M398.5 755.1V765.2M416.5 759.1V775.8M429.5 745.0V761.7M441.5 745.6V757.3M453.5 736.9V756.6M466.5 730.1V745.0M472.5 729.5V742.5M478.5 725.8V738.1M484.5 720.9V733.6M497.5 733.3V752.6M503.5 733.6V751.4M509.5 726.6V738.7M515.5 717.3V731.0M522.5 703.7V719.5M528.5 698.6V711.7M534.5 693.3V701.8M540.5 689.9V699.9M553.5 690.7V710.6M559.5 675.3V695.4M565.5 666.1V679.3M584.5 673.8V708.9M590.5 665.3V693.0M596.5 656.1V677.5M633.5 699.7V725.8M639.5 690.1V708.1M658.5 724.9V744.0M683.5 857.7V903.2M701.5 896.8V980.0M708.5 876.5V916.3M714.5 854.8V893.2M720.5 844.4V871.0M726.5 832.0V880.4M732.5 812.7V835.5M739.5 798.2V835.9M751.5 787.2V816.7M757.5 781.5V796.4M770.5 787.2V810.9M776.5 765.2V791.6M782.5 752.6V768.7M801.5 784.8V823.4M813.5 774.9V812.0M819.5 760.1V780.8M832.5 739.5V765.2M838.5 727.8V741.0M844.5 715.8V732.7M856.5 709.2V723.5M894.5 730.7V800.3M906.5 737.5V757.9M912.5 719.2V741.0M918.5 706.7V725.2M925.5 695.4V717.0M943.5 710.8V738.4M949.5 702.9V721.5M956.5 693.8V713.1M962.5 681.1V701.6M974.5 691.7V716.4M980.5 688.1V707.0M987.5 671.8V693.8M993.5 667.3V678.5M999.5 657.6V674.5M1005.5 650.9V665.8M1011.5 630.3V654.7M1024.5 628.1V649.3M1036.5 621.0V642.8M1042.5 611.4V639.5M1049.5 603.2V617.3M1055.5 596.0V613.1M1067.5 592.1V619.5M1073.5 588.9V599.0M1080.5 586.3V603.0M1086.5 580.8V593.7M1092.5 572.5V582.8M1104.5 565.5V584.7M1117.5 563.0V601.7M1123.5 552.3V566.2M1142.5 544.6V570.0M1154.5 543.4V557.3M1160.5 541.8V553.8M1173.5 542.1V558.0M1191.5 549.1V587.1M1197.5 545.0V562.8M1222.5 552.5V579.6M1228.5 545.9V560.2M1235.5 547.5V561.7M1241.5 544.3V567.9M1247.5 534.3V548.9M1272.5 528.1V550.9M1278.5 517.4V532.7M1284.5 513.6V523.9M1290.5 502.1V518.5M1303.5 498.0V509.2M1309.5 494.7V505.2M1315.5 489.3V496.9M1321.5 484.8V496.6M1327.5 483.7V495.1M1334.5 479.3V490.6M1340.5 470.2V479.5M1346.5 459.4V473.8M1352.5 454.0V466.8M1358.5 430.0V457.0M1377.5 451.0V474.4M1383.5 447.5V468.4M1389.5 440.9V454.6M1396.5 433.2V453.6M1402.5 424.2V440.3M1408.5 421.1V431.1M1420.5 437.6V463.1M1433.5 452.2V490.9M1439.5 437.9V455.9M1445.5 431.5V450.3M1451.5 420.1V435.1M1464.5 418.2V449.3M1470.5 410.2V421.0M1482.5 410.9V427.5M1489.5 407.4V432.2M1495.5 394.8V408.9M1501.5 383.7V398.9M1526.5 419.5V490.4M1532.5 405.2V444.1M1538.5 385.5V413.8M1544.5 380.2V401.3M1551.5 354.1V381.1M1569.5 340.2V381.2M1575.5 328.6V342.7M1588.5 310.0V333.2M1594.5 305.9V332.3M1600.5 285.3V309.6M1606.5 283.5V300.0M1613.5 277.9V290.1M1619.5 266.9V284.0M1625.5 257.2V272.1M1637.5 252.0V279.9M1650.5 236.0V261.3M1668.5 249.6V290.8M1681.5 277.4V323.6M1693.5 292.2V332.5M1712.5 314.3V356.5M1718.5 297.8V334.8M1730.5 296.5V324.4M1743.5 295.0V323.7M1749.5 289.6V300.7M1755.5 284.1V300.7M1761.5 265.1V289.9M1768.5 252.1V270.7M1792.5 253.6V289.8M1799.5 237.2V257.0M1805.5 226.5V245.9M1811.5 213.0V233.1M1817.5 201.9V217.0M1830.5 196.3V223.7M1836.5 184.9V207.0M1842.5 173.9V192.9M1848.5 175.1V212.3M1854.5 167.5V192.0M1867.5 149.8V172.1M1879.5 144.6V167.1M1904.5 154.6V180.6M1910.5 139.2V161.4M1916.5 126.7V140.2M1923.5 121.9V139.5M1929.5 111.0V130.6M1935.5 100.5V119.5M1947.5 99.4V109.9M1954.5 95.0V107.6" stroke="#26a69a" stroke-width="1" fill="none"/>
<path d="M-4.5 715.3V741.3M20.5 680.3V714.5M26.5 689.1V721.5M38.5 667.8V717.5M44.5 679.3V711.4M57.5 670.5V697.5M69.5 667.3V695.4M75.5 690.1V727.2M81.5 690.7V727.8M100.5 707.0V750.1M106.5 745.9V798.2M125.5 732.7V757.6M131.5 747.1V770.0M137.5 753.2V781.5M143.5 777.8V848.8M168.5 766.4V791.3M174.5 781.1V800.6M187.5 775.8V804.1M193.5 791.9V812.4M199.5 801.7V845.6M205.5 828.6V923.0M218.5 856.9V904.6M236.5 845.2V881.7M243.5 852.8V890.5M249.5 882.6V908.3M292.5 812.7V832.0M329.5 770.6V796.1M336.5 774.5V790.9M354.5 777.2V799.2M391.5 753.2V770.6M404.5 749.8V770.6M410.5 761.3V779.5M422.5 752.9V762.6M435.5 746.8V758.5M447.5 748.6V769.0M460.5 735.7V745.0M491.5 721.2V745.0M546.5 684.7V703.2M571.5 664.8V678.8M577.5 661.0V692.8M602.5 662.7V699.1M608.5 669.0V691.5M615.5 682.1V737.5M621.5 701.8V723.8M627.5 711.9V741.3M646.5 699.7V736.9M652.5 731.0V758.8M664.5 727.5V789.2M670.5 769.3V893.2M677.5 824.9V940.4M689.5 849.2V909.2M695.5 877.4V943.5M745.5 791.3V820.0M763.5 774.9V801.7M788.5 756.9V803.4M794.5 781.1V817.1M807.5 781.5V812.7M825.5 750.4V767.4M850.5 719.2V743.7M863.5 708.6V725.5M869.5 715.8V741.0M875.5 712.5V733.9M881.5 726.6V791.3M887.5 749.5V786.8M900.5 735.1V772.2M931.5 694.9V712.5M937.5 696.7V731.3M968.5 682.4V699.9M1018.5 637.9V660.0M1030.5 625.6V644.1M1061.5 595.8V619.3M1098.5 568.1V579.8M1111.5 562.8V573.0M1129.5 549.3V571.7M1135.5 554.5V568.7M1148.5 545.0V559.1M1166.5 542.7V556.0M1179.5 545.7V592.3M1185.5 562.5V591.3M1204.5 547.3V567.7M1210.5 558.2V603.6M1216.5 573.4V604.0M1253.5 531.7V539.7M1259.5 532.6V544.4M1265.5 535.8V550.9M1296.5 497.6V510.2M1365.5 435.0V477.4M1371.5 439.5V469.7M1414.5 421.3V467.0M1427.5 439.7V506.1M1458.5 419.4V446.4M1476.5 411.9V436.7M1507.5 373.4V387.6M1513.5 367.3V432.3M1520.5 396.8V531.9M1557.5 346.2V388.2M1563.5 350.3V385.4M1582.5 317.6V335.2M1631.5 257.1V277.5M1644.5 241.1V255.9M1656.5 235.1V284.9M1662.5 253.1V294.6M1675.5 253.1V293.8M1687.5 289.0V341.1M1699.5 275.9V309.6M1706.5 294.3V346.6M1724.5 295.9V328.2M1737.5 287.4V310.6M1774.5 253.5V275.0M1780.5 257.6V283.5M1786.5 270.0V295.6M1823.5 201.9V224.7M1861.5 160.3V173.6M1873.5 146.3V164.7M1885.5 143.4V162.9M1892.5 153.4V185.1M1898.5 172.2V236.4M1941.5 101.6V121.2M1960.5 96.1V108.2M1966.5 99.9V123.9" stroke="#ef5350" stroke-width="1" fill="none"/>
<path d="M-1 710.9h5V733.7h-5ZM5 703.8h5V710.9h-5ZM11 682.6h5V703.8h-5ZM30 675.0h5V710.0h-5ZM48 686.2h5V695.1h-5ZM61 670.3h5V692.5h-5ZM86 722.9h5V724.3h-5ZM92 710.0h5V722.9h-5ZM110 743.7h5V771.6h-5ZM117 741.6h5V743.7h-5ZM148 805.5h5V812.4h-5ZM154 778.5h5V805.5h-5ZM160 775.5h5V778.5h-5ZM179 775.8h5V789.2h-5ZM210 860.5h5V862.2h-5ZM222 873.1h5V904.6h-5ZM228 852.4h5V873.1h-5ZM253 889.6h5V892.7h-5ZM259 860.1h5V889.6h-5ZM265 841.3h5V860.1h-5ZM272 837.0h5V841.3h-5ZM278 831.3h5V837.0h-5ZM284 824.5h5V831.3h-5ZM296 808.8h5V829.0h-5ZM303 806.3h5V808.8h-5ZM309 787.5h5V806.3h-5ZM315 781.1h5V787.5h-5ZM321 776.5h5V781.1h-5ZM340 784.5h5V789.2h-5ZM346 777.8h5V784.5h-5ZM358 790.2h5V791.2h-5ZM365 786.5h5V790.2h-5ZM371 781.5h5V786.5h-5ZM377 767.1h5V781.5h-5ZM383 755.1h5V767.1h-5ZM396 757.6h5V764.8h-5ZM414 761.3h5V772.6h-5ZM427 748.3h5V761.7h-5ZM439 749.8h5V752.6h-5ZM451 743.7h5V756.6h-5ZM464 734.5h5V744.0h-5ZM470 734.2h5V735.2h-5ZM476 730.1h5V734.2h-5ZM482 725.5h5V730.1h-5ZM495 737.5h5V738.5h-5ZM501 735.4h5V737.5h-5ZM507 727.5h5V735.4h-5ZM513 718.4h5V727.5h-5ZM520 706.7h5V718.4h-5ZM526 700.5h5V706.7h-5ZM532 695.9h5V700.5h-5ZM538 690.7h5V695.9h-5ZM551 695.1h5V698.9h-5ZM557 679.3h5V695.1h-5ZM563 667.1h5V679.3h-5ZM582 681.3h5V686.2h-5ZM588 668.0h5V681.3h-5ZM594 662.7h5V668.0h-5ZM631 704.5h5V722.1h-5ZM637 700.8h5V704.5h-5ZM656 733.6h5V738.4h-5ZM681 865.9h5V868.9h-5ZM699 912.5h5V943.5h-5ZM706 878.7h5V912.5h-5ZM712 859.3h5V878.7h-5ZM718 859.3h5V860.3h-5ZM724 832.4h5V859.3h-5ZM730 819.7h5V832.4h-5ZM737 806.6h5V819.7h-5ZM749 793.0h5V814.2h-5ZM755 786.5h5V793.0h-5ZM768 790.2h5V800.6h-5ZM774 768.7h5V790.2h-5ZM780 762.9h5V768.7h-5ZM799 790.9h5V816.0h-5ZM811 777.8h5V809.5h-5ZM817 764.2h5V777.8h-5ZM830 741.0h5V764.8h-5ZM836 732.7h5V741.0h-5ZM842 720.9h5V732.7h-5ZM854 710.6h5V721.2h-5ZM892 742.5h5V781.1h-5ZM904 741.0h5V744.3h-5ZM910 725.2h5V741.0h-5ZM916 710.0h5V725.2h-5ZM923 698.6h5V710.0h-5ZM941 711.1h5V725.8h-5ZM947 706.4h5V711.1h-5ZM954 698.9h5V706.4h-5ZM960 689.9h5V698.9h-5ZM972 696.5h5V697.5h-5ZM978 693.8h5V696.5h-5ZM985 675.3h5V693.8h-5ZM991 671.0h5V675.3h-5ZM997 657.8h5V671.0h-5ZM1003 650.9h5V657.8h-5ZM1009 643.2h5V650.9h-5ZM1022 630.7h5V649.0h-5ZM1034 631.6h5V642.8h-5ZM1040 615.2h5V631.6h-5ZM1047 604.8h5V615.2h-5ZM1053 596.2h5V604.8h-5ZM1065 593.9h5V609.7h-5ZM1071 591.3h5V593.9h-5ZM1078 588.9h5V591.3h-5ZM1084 581.0h5V588.9h-5ZM1090 574.0h5V581.0h-5ZM1102 565.8h5V579.6h-5ZM1115 563.0h5V571.7h-5ZM1121 553.8h5V563.0h-5ZM1140 547.1h5V567.3h-5ZM1152 550.5h5V553.8h-5ZM1158 546.8h5V550.5h-5ZM1171 547.3h5V554.7h-5ZM1189 551.8h5V581.8h-5ZM1195 551.6h5V552.6h-5ZM1220 555.3h5V579.4h-5ZM1226 554.3h5V555.3h-5ZM1233 548.6h5V554.3h-5ZM1239 548.2h5V549.2h-5ZM1245 535.0h5V548.2h-5ZM1270 530.7h5V543.4h-5ZM1276 523.9h5V530.7h-5ZM1282 517.2h5V523.9h-5ZM1288 503.4h5V517.2h-5ZM1301 500.2h5V503.6h-5ZM1307 495.8h5V500.2h-5ZM1313 494.1h5V495.8h-5ZM1319 486.9h5V494.1h-5ZM1325 486.6h5V487.6h-5ZM1332 479.5h5V486.6h-5ZM1338 471.2h5V479.5h-5ZM1344 460.7h5V471.2h-5ZM1350 457.0h5V460.7h-5ZM1356 436.4h5V457.0h-5ZM1375 460.7h5V461.7h-5ZM1381 452.7h5V460.7h-5ZM1387 450.8h5V452.7h-5ZM1394 437.5h5V450.8h-5ZM1400 426.2h5V437.5h-5ZM1406 424.6h5V426.2h-5ZM1418 445.1h5V451.7h-5ZM1431 452.8h5V481.3h-5ZM1437 441.8h5V452.8h-5ZM1443 435.1h5V441.8h-5ZM1449 420.5h5V435.1h-5ZM1462 421.0h5V446.2h-5ZM1468 416.2h5V421.0h-5ZM1480 416.6h5V423.1h-5ZM1487 408.9h5V416.6h-5ZM1493 396.4h5V408.9h-5ZM1499 385.7h5V396.4h-5ZM1524 424.9h5V469.7h-5ZM1530 408.2h5V424.9h-5ZM1536 401.3h5V408.2h-5ZM1542 381.1h5V401.3h-5ZM1549 355.6h5V381.1h-5ZM1567 342.7h5V381.2h-5ZM1573 329.0h5V342.7h-5ZM1586 323.5h5V333.2h-5ZM1592 307.8h5V323.5h-5ZM1598 288.6h5V307.8h-5ZM1604 286.6h5V288.6h-5ZM1611 278.2h5V286.6h-5ZM1617 269.8h5V278.2h-5ZM1623 259.0h5V269.8h-5ZM1635 252.2h5V277.4h-5ZM1648 239.3h5V255.4h-5ZM1666 258.4h5V271.6h-5ZM1679 293.1h5V294.1h-5ZM1691 293.2h5V326.1h-5ZM1710 317.5h5V346.5h-5ZM1716 297.8h5V317.5h-5ZM1728 298.1h5V320.7h-5ZM1741 295.2h5V308.1h-5ZM1747 289.7h5V295.2h-5ZM1753 288.7h5V289.7h-5ZM1759 265.1h5V288.7h-5ZM1766 253.5h5V265.1h-5ZM1790 255.3h5V287.5h-5ZM1797 239.0h5V255.3h-5ZM1803 233.0h5V239.0h-5ZM1809 214.1h5V233.0h-5ZM1815 202.6h5V214.1h-5ZM1828 200.9h5V218.5h-5ZM1834 188.1h5V200.9h-5ZM1840 183.8h5V188.1h-5ZM1846 175.3h5V183.8h-5ZM1852 167.8h5V175.3h-5ZM1865 150.6h5V171.6h-5ZM1877 150.0h5V160.0h-5ZM1902 158.1h5V180.6h-5ZM1908 139.9h5V158.1h-5ZM1914 131.9h5V139.9h-5ZM1921 124.7h5V131.9h-5ZM1927 111.7h5V124.7h-5ZM1933 103.2h5V111.7h-5ZM1945 102.9h5V104.6h-5ZM1952 97.8h5V102.9h-5Z" fill="#26a69a"/>
<path d="M-7 722.8h5V733.7h-5ZM18 682.6h5V702.4h-5ZM24 702.4h5V710.0h-5ZM36 675.0h5V687.0h-5ZM42 687.0h5V695.1h-5ZM55 686.2h5V692.5h-5ZM67 670.3h5V690.9h-5ZM73 690.9h5V693.0h-5ZM79 693.0h5V724.3h-5ZM98 710.0h5V746.5h-5ZM104 746.5h5V771.6h-5ZM123 741.6h5V751.4h-5ZM129 751.4h5V755.4h-5ZM135 755.4h5V780.1h-5ZM141 780.1h5V812.4h-5ZM166 775.5h5V781.5h-5ZM172 781.5h5V789.2h-5ZM185 775.8h5V799.9h-5ZM191 799.9h5V803.1h-5ZM197 803.1h5V831.3h-5ZM203 831.3h5V862.2h-5ZM216 860.5h5V904.6h-5ZM234 852.4h5V875.7h-5ZM241 875.7h5V886.1h-5ZM247 886.1h5V892.7h-5ZM290 824.5h5V829.0h-5ZM327 776.5h5V782.8h-5ZM334 782.8h5V789.2h-5ZM352 777.8h5V790.9h-5ZM389 755.1h5V764.8h-5ZM402 757.6h5V764.8h-5ZM408 764.8h5V772.6h-5ZM420 761.3h5V762.3h-5ZM433 748.3h5V752.6h-5ZM445 749.8h5V756.6h-5ZM458 743.7h5V744.7h-5ZM489 725.5h5V737.5h-5ZM544 690.7h5V698.9h-5ZM569 667.1h5V674.0h-5ZM575 674.0h5V686.2h-5ZM600 662.7h5V679.6h-5ZM606 679.6h5V682.9h-5ZM613 682.9h5V706.4h-5ZM619 706.4h5V719.8h-5ZM625 719.8h5V722.1h-5ZM644 700.8h5V734.5h-5ZM650 734.5h5V738.4h-5ZM662 733.6h5V770.0h-5ZM668 770.0h5V839.4h-5ZM675 839.4h5V868.9h-5ZM687 865.9h5V899.5h-5ZM693 899.5h5V943.5h-5ZM743 806.6h5V814.2h-5ZM761 786.5h5V800.6h-5ZM786 762.9h5V795.4h-5ZM792 795.4h5V816.0h-5ZM805 790.9h5V809.5h-5ZM823 764.2h5V765.2h-5ZM848 720.9h5V721.9h-5ZM861 710.6h5V715.8h-5ZM867 715.8h5V722.6h-5ZM873 722.6h5V731.0h-5ZM879 731.0h5V752.9h-5ZM885 752.9h5V781.1h-5ZM898 742.5h5V744.3h-5ZM929 698.6h5V701.3h-5ZM935 701.3h5V725.8h-5ZM966 689.9h5V697.5h-5ZM1016 643.2h5V649.0h-5ZM1028 630.7h5V642.8h-5ZM1059 596.2h5V609.7h-5ZM1096 574.0h5V579.6h-5ZM1109 565.8h5V571.7h-5ZM1127 553.8h5V555.4h-5ZM1133 555.4h5V567.3h-5ZM1146 547.1h5V553.8h-5ZM1164 546.8h5V554.7h-5ZM1177 547.3h5V571.7h-5ZM1183 571.7h5V581.8h-5ZM1202 551.6h5V558.2h-5ZM1208 558.2h5V577.9h-5ZM1214 577.9h5V579.4h-5ZM1251 535.0h5V536.0h-5ZM1257 535.5h5V536.5h-5ZM1263 536.0h5V543.4h-5ZM1294 503.4h5V504.4h-5ZM1363 436.4h5V451.4h-5ZM1369 451.4h5V461.7h-5ZM1412 424.6h5V451.7h-5ZM1425 445.1h5V481.3h-5ZM1456 420.5h5V446.2h-5ZM1474 416.2h5V423.1h-5ZM1505 385.7h5V386.7h-5ZM1511 386.3h5V419.5h-5ZM1518 419.5h5V469.7h-5ZM1555 355.6h5V370.6h-5ZM1561 370.6h5V381.2h-5ZM1580 329.0h5V333.2h-5ZM1629 259.0h5V277.4h-5ZM1642 252.2h5V255.4h-5ZM1654 239.3h5V259.6h-5ZM1660 259.6h5V271.6h-5ZM1673 258.4h5V293.1h-5ZM1685 293.1h5V326.1h-5ZM1697 293.2h5V309.6h-5ZM1704 309.6h5V346.5h-5ZM1722 297.8h5V320.7h-5ZM1735 298.1h5V308.1h-5ZM1772 253.5h5V260.3h-5ZM1778 260.3h5V279.1h-5ZM1784 279.1h5V287.5h-5ZM1821 202.6h5V218.5h-5ZM1859 167.8h5V171.6h-5ZM1871 150.6h5V160.0h-5ZM1883 150.0h5V155.4h-5ZM1890 155.4h5V177.7h-5ZM1896 177.7h5V180.6h-5ZM1939 102.1h5V103.1h-5ZM1958 97.8h5V101.0h-5ZM1964 104.1h5V122.0h-5Z" fill="#ef5350"/>
<rect x="2002" y="189.8" width="396.5" height="33" fill="rgba(255,255,255,0.93)"/>
<text x="2006.80" y="214.7" font-size="25" font-weight="normal" fill="#000000" textLength="382.43" lengthAdjust="spacingAndGlyphs" >Technical border of a bear market</text>
</g>
<rect x="0" y="1078" width="2560" height="1" fill="#e0e3eb"/>
<g clip-path="url(#cr)">
<rect x="0" y="1135.3" width="2485" height="64.5" fill="rgba(126,87,194,0.1)"/>
<line x1="0" y1="1135.3" x2="2485" y2="1135.3" stroke="#9598a1" stroke-width="1" stroke-dasharray="3.2 4.5" opacity="0.9"/>
<line x1="0" y1="1167.5" x2="2485" y2="1167.5" stroke="#9598a1" stroke-width="1" stroke-dasharray="3.2 4.5" opacity="0.5"/>
<line x1="0" y1="1199.8" x2="2485" y2="1199.8" stroke="#9598a1" stroke-width="1" stroke-dasharray="3.2 4.5" opacity="0.9"/>
<polygon points="8.9,1135.3 13.3,1131.0 15.4,1135.3" fill="url(#obg)"/>
<polygon points="516.9,1135.3 521.6,1130.4 527.8,1127.3 534.0,1125.2 540.2,1122.8 546.4,1134.7 552.6,1132.6 558.8,1124.7 565.0,1119.9 571.2,1129.3 573.8,1135.3" fill="url(#obg)"/>
<polygon points="588.6,1135.3 589.8,1133.9 596.0,1131.4 597.4,1135.3" fill="url(#obg)"/>
<polygon points="998.2,1135.3 998.9,1134.7 1005.1,1132.1 1011.3,1129.3 1017.5,1135.0 1023.7,1128.2 1027.7,1135.3" fill="url(#obg)"/>
<polygon points="1035.5,1135.3 1036.1,1134.8 1042.3,1129.0 1048.5,1125.7 1054.7,1123.1 1060.7,1135.3" fill="url(#obg)"/>
<polygon points="1061.5,1135.3 1067.1,1130.2 1073.3,1129.3 1079.5,1128.5 1085.7,1125.7 1091.9,1123.4 1098.1,1129.6 1104.3,1124.6 1110.5,1131.0 1116.7,1127.6 1122.9,1124.3 1129.1,1126.2 1133.4,1135.3" fill="url(#obg)"/>
<polygon points="1138.2,1135.3 1141.5,1130.6 1145.9,1135.3" fill="url(#obg)"/>
<polygon points="1155.9,1135.3 1160.1,1134.1 1161.0,1135.3" fill="url(#obg)"/>
<polygon points="1287.1,1135.3 1290.3,1131.9 1296.5,1132.1 1302.7,1130.5 1308.9,1128.4 1315.1,1127.6 1321.3,1124.2 1327.5,1124.1 1333.7,1120.8 1339.9,1117.3 1346.1,1113.6 1352.3,1112.3 1358.5,1106.7 1364.7,1127.7 1368.7,1135.3" fill="url(#obg)"/>
<polygon points="1382.3,1135.3 1383.3,1134.7 1389.5,1133.7 1395.7,1127.5 1401.9,1122.9 1408.1,1122.3 1410.8,1135.3" fill="url(#obg)"/>
<polygon points="1592.9,1135.3 1594.0,1134.5 1600.2,1129.5 1606.4,1129.0 1612.6,1126.9 1618.8,1124.7 1625.0,1122.1 1630.8,1135.3" fill="url(#obg)"/>
<polygon points="1632.2,1135.3 1637.4,1129.2 1643.6,1131.5 1649.8,1127.1 1653.4,1135.3" fill="url(#obg)"/>
<polygon points="1843.9,1135.3 1848.2,1133.5 1854.4,1131.3 1860.6,1134.2 1866.8,1127.8 1872.9,1135.3" fill="url(#obg)"/>
<polygon points="1873.1,1135.3 1879.2,1132.1 1883.7,1135.3" fill="url(#obg)"/>
<polygon points="1917.0,1135.3 1922.6,1133.2 1928.8,1129.1 1935.0,1126.5 1941.2,1126.4 1947.4,1126.6 1953.6,1124.9 1959.8,1128.4 1962.0,1135.3" fill="url(#obg)"/>
<polygon points="213.9,1199.8 217.9,1204.4 220.4,1199.8" fill="url(#osg)"/>
<polygon points="666.7,1199.8 670.4,1208.3 676.6,1212.1 682.8,1210.8 689.0,1214.7 695.2,1218.6 701.4,1208.1 706.0,1199.8" fill="url(#osg)"/>
<polyline points="-17.7,1138.4 -11.5,1139.9 -5.3,1146.4 0.9,1139.2 7.1,1137.0 13.3,1131.0 19.5,1143.7 25.7,1148.0 31.9,1137.3 38.1,1144.2 44.3,1148.6 50.5,1145.7 56.7,1149.3 62.9,1141.8 69.1,1153.2 75.3,1154.3 81.5,1168.2 87.7,1167.6 93.9,1162.4 100.1,1176.1 106.3,1183.2 112.5,1173.0 118.7,1172.3 124.9,1175.4 131.1,1176.7 137.3,1184.1 143.5,1191.6 149.7,1189.0 155.9,1178.6 162.1,1177.5 168.3,1179.3 174.5,1181.7 180.7,1175.9 186.9,1183.4 193.1,1184.3 199.3,1191.6 205.5,1197.8 211.7,1197.2 217.9,1204.4 224.1,1193.0 230.3,1185.8 236.5,1190.5 242.7,1192.5 248.9,1193.7 255.1,1192.5 261.3,1181.4 267.5,1174.6 273.7,1173.0 279.9,1170.8 286.1,1168.2 292.3,1170.0 298.5,1161.7 304.7,1160.7 310.9,1153.3 317.1,1150.9 323.3,1149.1 329.4,1153.0 335.6,1156.9 341.8,1154.7 348.0,1151.5 354.2,1160.1 360.4,1159.7 366.6,1157.7 372.8,1154.9 379.0,1147.4 385.2,1141.7 391.4,1149.8 397.6,1146.2 403.8,1152.1 410.0,1158.0 416.2,1151.8 422.4,1152.0 428.6,1144.8 434.8,1148.7 441.0,1147.1 447.2,1153.4 453.4,1145.8 459.6,1146.1 465.8,1140.8 472.0,1140.6 478.2,1138.2 484.4,1135.6 490.6,1149.6 496.8,1149.6 503.0,1148.1 509.2,1142.5 515.4,1136.8 521.6,1130.4 527.8,1127.3 534.0,1125.2 540.2,1122.8 546.4,1134.7 552.6,1132.6 558.8,1124.7 565.0,1119.9 571.2,1129.3 577.4,1143.5 583.6,1140.8 589.8,1133.9 596.0,1131.4 602.2,1149.1 608.4,1152.1 614.6,1169.7 620.8,1177.2 627.0,1178.4 633.2,1166.9 639.4,1164.6 645.6,1182.3 651.8,1183.9 658.0,1180.9 664.2,1194.2 670.4,1208.3 676.6,1212.1 682.8,1210.8 689.0,1214.7 695.2,1218.6 701.4,1208.1 707.6,1196.9 713.8,1190.5 720.0,1190.5 726.2,1181.2 732.4,1176.9 738.6,1172.4 744.8,1174.7 751.0,1167.2 757.2,1164.9 763.4,1170.0 769.6,1166.2 775.8,1158.4 782.0,1156.4 788.2,1169.5 794.4,1176.0 800.6,1167.2 806.8,1173.2 813.0,1162.7 819.2,1158.5 825.4,1158.7 831.6,1151.1 837.8,1148.5 844.0,1144.8 850.2,1145.0 856.4,1141.5 862.6,1144.9 868.8,1149.1 875.0,1154.1 881.2,1165.4 887.4,1176.5 893.6,1161.5 899.8,1162.3 906.0,1161.0 912.2,1154.8 918.4,1149.3 924.6,1145.3 930.8,1146.9 937.0,1160.4 943.2,1154.7 949.4,1152.9 955.5,1149.9 961.7,1146.3 967.9,1151.3 974.1,1150.9 980.3,1149.6 986.5,1141.6 992.7,1139.8 998.9,1134.7 1005.1,1132.1 1011.3,1129.3 1017.5,1135.0 1023.7,1128.2 1029.9,1139.2 1036.1,1134.8 1042.3,1129.0 1048.5,1125.7 1054.7,1123.1 1060.9,1135.8 1067.1,1130.2 1073.3,1129.3 1079.5,1128.5 1085.7,1125.7 1091.9,1123.4 1098.1,1129.6 1104.3,1124.6 1110.5,1131.0 1116.7,1127.6 1122.9,1124.3 1129.1,1126.2 1135.3,1139.3 1141.5,1130.6 1147.7,1137.3 1153.9,1135.8 1160.1,1134.1 1166.3,1142.4 1172.5,1138.6 1178.7,1159.6 1184.9,1166.2 1191.1,1150.5 1197.3,1150.4 1203.5,1155.3 1209.7,1167.6 1215.9,1168.5 1222.1,1155.6 1228.3,1155.1 1234.5,1152.2 1240.7,1152.0 1246.9,1145.1 1253.1,1145.6 1259.3,1146.1 1265.5,1153.0 1271.7,1145.5 1277.9,1141.9 1284.1,1138.4 1290.3,1131.9 1296.5,1132.1 1302.7,1130.5 1308.9,1128.4 1315.1,1127.6 1321.3,1124.2 1327.5,1124.1 1333.7,1120.8 1339.9,1117.3 1346.1,1113.6 1352.3,1112.3 1358.5,1106.7 1364.7,1127.7 1370.9,1139.3 1377.1,1138.8 1383.3,1134.7 1389.5,1133.7 1395.7,1127.5 1401.9,1122.9 1408.1,1122.3 1414.3,1151.4 1420.5,1147.8 1426.7,1172.0 1432.9,1157.7 1439.1,1152.9 1445.3,1149.9 1451.5,1143.9 1457.7,1159.7 1463.9,1149.7 1470.1,1147.9 1476.3,1152.1 1482.5,1149.4 1488.7,1146.3 1494.9,1141.3 1501.1,1137.3 1507.3,1137.8 1513.5,1160.3 1519.7,1180.4 1525.9,1163.6 1532.1,1158.1 1538.3,1155.8 1544.5,1149.2 1550.7,1141.7 1556.9,1149.4 1563.1,1154.3 1569.2,1142.9 1575.4,1139.2 1581.6,1141.6 1587.8,1138.8 1594.0,1134.5 1600.2,1129.5 1606.4,1129.0 1612.6,1126.9 1618.8,1124.7 1625.0,1122.1 1631.2,1136.4 1637.4,1129.2 1643.6,1131.5 1649.8,1127.1 1656.0,1141.4 1662.2,1148.6 1668.4,1144.1 1674.6,1161.6 1680.8,1161.6 1687.0,1174.2 1693.2,1162.4 1699.4,1168.3 1705.6,1179.1 1711.8,1169.8 1718.0,1163.7 1724.2,1170.7 1730.4,1163.9 1736.6,1167.1 1742.8,1163.0 1749.0,1161.3 1755.2,1161.0 1761.4,1153.0 1767.6,1149.3 1773.8,1152.7 1780.0,1161.3 1786.2,1164.8 1792.4,1153.4 1798.6,1148.2 1804.8,1146.3 1811.0,1140.5 1817.2,1137.1 1823.4,1146.6 1829.6,1141.1 1835.8,1137.3 1842.0,1136.0 1848.2,1133.5 1854.4,1131.3 1860.6,1134.2 1866.8,1127.8 1873.0,1135.3 1879.2,1132.1 1885.4,1136.4 1891.6,1151.9 1897.8,1153.6 1904.0,1144.6 1910.2,1138.2 1916.4,1135.5 1922.6,1133.2 1928.8,1129.1 1935.0,1126.5 1941.2,1126.4 1947.4,1126.6 1953.6,1124.9 1959.8,1128.4 1966.0,1148.1" fill="none" stroke="#7e57c2" stroke-width="1.3" stroke-linejoin="round"/>
<polyline points="-17.7,1135.9 -11.5,1137.3 -5.3,1139.0 0.9,1137.5 7.1,1136.4 13.3,1135.5 19.5,1136.0 25.7,1137.0 31.9,1137.6 38.1,1138.2 44.3,1139.3 50.5,1140.4 56.7,1141.4 62.9,1142.2 69.1,1143.2 75.3,1144.3 81.5,1145.8 87.7,1147.8 93.9,1149.7 100.1,1152.9 106.3,1155.7 112.5,1157.5 118.7,1160.0 124.9,1162.2 131.1,1164.2 137.3,1167.0 143.5,1170.0 149.7,1173.4 155.9,1175.2 162.1,1176.8 168.3,1177.6 174.5,1178.6 180.7,1179.6 186.9,1180.1 193.1,1180.2 199.3,1181.5 205.5,1183.4 211.7,1184.9 217.9,1186.9 224.1,1187.5 230.3,1187.1 236.5,1187.2 242.7,1188.2 248.9,1189.4 255.1,1190.3 261.3,1190.3 267.5,1190.2 273.7,1189.4 279.9,1188.5 286.1,1186.8 292.3,1184.8 298.5,1182.3 304.7,1179.2 310.9,1176.3 317.1,1173.8 323.3,1170.9 329.4,1168.1 335.6,1165.4 341.8,1162.7 348.0,1160.6 354.2,1159.6 360.4,1158.6 366.6,1157.7 372.8,1156.7 379.0,1155.1 385.2,1153.7 391.4,1152.9 397.6,1152.4 403.8,1152.5 410.0,1153.1 416.2,1153.0 422.4,1152.7 428.6,1152.0 434.8,1151.8 441.0,1150.8 447.2,1150.4 453.4,1149.5 459.6,1148.9 465.8,1148.4 472.0,1148.4 478.2,1147.5 484.4,1146.8 490.6,1146.6 496.8,1146.0 503.0,1145.7 509.2,1145.1 515.4,1144.5 521.6,1143.2 527.8,1141.8 534.0,1139.8 540.2,1138.1 546.4,1137.3 552.6,1136.7 558.8,1135.6 565.0,1134.3 571.2,1133.8 577.4,1133.4 583.6,1132.8 589.8,1131.7 596.0,1130.9 602.2,1131.8 608.4,1133.4 614.6,1136.4 620.8,1140.1 627.0,1144.1 633.2,1146.4 639.4,1148.7 645.6,1152.8 651.8,1157.4 658.0,1161.1 664.2,1164.7 670.4,1169.5 676.6,1175.1 682.8,1180.8 689.0,1185.4 695.2,1190.2 701.4,1192.9 707.6,1194.3 713.8,1195.2 720.0,1196.9 726.2,1198.1 732.4,1197.7 738.6,1196.9 744.8,1196.4 751.0,1194.5 757.2,1191.4 763.4,1188.4 769.6,1185.2 775.8,1181.2 782.0,1176.7 788.2,1174.0 794.4,1172.5 800.6,1170.8 806.8,1169.6 813.0,1168.2 819.2,1166.9 825.4,1166.0 831.6,1164.3 837.8,1162.9 844.0,1161.5 850.2,1159.7 856.4,1158.0 862.6,1157.0 868.8,1156.5 875.0,1155.4 881.2,1154.6 887.4,1155.3 893.6,1154.4 899.8,1154.4 906.0,1154.6 912.2,1154.3 918.4,1154.2 924.6,1154.0 930.8,1154.1 937.0,1155.2 943.2,1156.1 949.4,1156.7 955.5,1156.8 961.7,1156.2 967.9,1155.2 974.1,1153.4 980.3,1152.5 986.5,1151.1 992.7,1149.6 998.9,1148.1 1005.1,1146.9 1011.3,1145.7 1017.5,1144.9 1023.7,1142.6 1029.9,1141.5 1036.1,1140.2 1042.3,1138.7 1048.5,1137.2 1054.7,1135.2 1060.9,1134.1 1067.1,1132.8 1073.3,1131.9 1079.5,1131.1 1085.7,1130.4 1091.9,1129.8 1098.1,1129.8 1104.3,1129.1 1110.5,1129.3 1116.7,1128.5 1122.9,1127.7 1129.1,1127.5 1135.3,1128.5 1141.5,1129.0 1147.7,1129.1 1153.9,1129.5 1160.1,1129.9 1166.3,1130.8 1172.5,1131.8 1178.7,1134.4 1184.9,1137.0 1191.1,1138.8 1197.3,1140.2 1203.5,1142.2 1209.7,1145.3 1215.9,1148.3 1222.1,1149.5 1228.3,1151.2 1234.5,1152.3 1240.7,1153.4 1246.9,1154.2 1253.1,1154.5 1259.3,1155.0 1265.5,1154.5 1271.7,1153.0 1277.9,1152.4 1284.1,1151.6 1290.3,1149.9 1296.5,1147.3 1302.7,1144.6 1308.9,1142.7 1315.1,1140.7 1321.3,1138.7 1327.5,1136.7 1333.7,1135.0 1339.9,1133.0 1346.1,1130.7 1352.3,1127.7 1358.5,1125.0 1364.7,1124.0 1370.9,1124.0 1377.1,1124.5 1383.3,1124.7 1389.5,1124.9 1395.7,1124.9 1401.9,1124.5 1408.1,1124.4 1414.3,1126.4 1420.5,1128.3 1426.7,1132.2 1432.9,1135.3 1439.1,1138.2 1445.3,1141.3 1451.5,1142.5 1457.7,1143.9 1463.9,1144.7 1470.1,1145.7 1476.3,1147.0 1482.5,1148.5 1488.7,1150.2 1494.9,1151.6 1501.1,1150.6 1507.3,1149.8 1513.5,1149.0 1519.7,1150.6 1525.9,1151.4 1532.1,1152.0 1538.3,1152.8 1544.5,1152.1 1550.7,1151.5 1556.9,1151.6 1563.1,1151.8 1569.2,1151.3 1575.4,1150.8 1581.6,1150.8 1587.8,1150.9 1594.0,1150.7 1600.2,1148.5 1606.4,1144.8 1612.6,1142.2 1618.8,1139.8 1625.0,1137.4 1631.2,1136.5 1637.4,1135.6 1643.6,1134.3 1649.8,1132.4 1656.0,1132.3 1662.2,1133.0 1668.4,1133.1 1674.6,1134.8 1680.8,1136.7 1687.0,1139.9 1693.2,1142.3 1699.4,1145.2 1705.6,1149.1 1711.8,1152.5 1718.0,1154.5 1724.2,1157.5 1730.4,1159.8 1736.6,1162.6 1742.8,1164.2 1749.0,1165.1 1755.2,1166.3 1761.4,1165.7 1767.6,1164.8 1773.8,1163.2 1780.0,1163.2 1786.2,1162.9 1792.4,1161.1 1798.6,1159.5 1804.8,1158.3 1811.0,1156.1 1817.2,1154.2 1823.4,1152.8 1829.6,1151.2 1835.8,1149.5 1842.0,1147.7 1848.2,1146.3 1854.4,1145.0 1860.6,1143.7 1866.8,1141.3 1873.0,1139.2 1879.2,1137.7 1885.4,1136.8 1891.6,1137.2 1897.8,1138.2 1904.0,1138.7 1910.2,1138.1 1916.4,1137.7 1922.6,1137.4 1928.8,1136.9 1935.0,1136.4 1941.2,1136.1 1947.4,1135.5 1953.6,1135.3 1959.8,1134.8 1966.0,1135.9" fill="none" stroke="#f6e074" stroke-width="1.5" stroke-linejoin="round"/>
</g>
<g fill="#131722" stroke="#ffffff" stroke-width="1.6" paint-order="stroke" stroke-linejoin="round"><path d="M12.3 1181h12.3v15.7h-5.8v-9.2h-6.5z"/><circle cx="30.2" cy="1184.5" r="3"/><path d="M36.3 1181h7.5l-5.8 15.7h-7.8z"/></g>
<g>
<text x="2494.3" y="37.0" font-size="12.4" fill="#131722">8,250.00</text>
<text x="2494.3" y="72.9" font-size="12.4" fill="#131722">7,500.00</text>
<text x="2494.3" y="112.6" font-size="12.4" fill="#131722">6,750.00</text>
<text x="2494.3" y="147.7" font-size="12.4" fill="#131722">6,150.00</text>
<text x="2494.3" y="186.3" font-size="12.4" fill="#131722">5,550.00</text>
<text x="2494.3" y="229.4" font-size="12.4" fill="#131722">4,950.00</text>
<text x="2494.3" y="261.2" font-size="12.4" fill="#131722">4,550.00</text>
<text x="2494.3" y="295.8" font-size="12.4" fill="#131722">4,150.00</text>
<text x="2494.3" y="334.0" font-size="12.4" fill="#131722">3,750.00</text>
<text x="2494.3" y="365.4" font-size="12.4" fill="#131722">3,450.00</text>
<text x="2494.3" y="399.7" font-size="12.4" fill="#131722">3,150.00</text>
<text x="2494.3" y="437.4" font-size="12.4" fill="#131722">2,850.00</text>
<text x="2494.3" y="479.3" font-size="12.4" fill="#131722">2,550.00</text>
<text x="2494.3" y="526.4" font-size="12.4" fill="#131722">2,250.00</text>
<text x="2494.3" y="561.5" font-size="12.4" fill="#131722">2,050.00</text>
<text x="2494.3" y="600.2" font-size="12.4" fill="#131722">1,850.00</text>
<text x="2494.3" y="634.2" font-size="12.4" fill="#131722">1,690.00</text>
<text x="2494.3" y="671.7" font-size="12.4" fill="#131722">1,530.00</text>
<text x="2494.3" y="713.3" font-size="12.4" fill="#131722">1,370.00</text>
<text x="2494.3" y="749.4" font-size="12.4" fill="#131722">1,245.00</text>
<text x="2494.3" y="780.9" font-size="12.4" fill="#131722">1,145.00</text>
<text x="2494.3" y="815.3" font-size="12.4" fill="#131722">1,045.00</text>
<text x="2494.3" y="853.2" font-size="12.4" fill="#131722">945.00</text>
<text x="2494.3" y="886.5" font-size="12.4" fill="#131722">865.00</text>
<text x="2494.3" y="920.7" font-size="12.4" fill="#131722">790.00</text>
<text x="2494.3" y="958.3" font-size="12.4" fill="#131722">715.00</text>
<text x="2494.3" y="991.3" font-size="12.4" fill="#131722">655.00</text>
<text x="2494.3" y="1024.3" font-size="12.4" fill="#131722">600.00</text>
<text x="2494.3" y="1057.1" font-size="12.4" fill="#131722">550.00</text>
<text x="2494.3" y="1091.3" font-size="12.4" fill="#131722">100.00</text>
<text x="2494.3" y="1123.6" font-size="12.4" fill="#131722">80.00</text>
<text x="2494.3" y="1155.8" font-size="12.4" fill="#131722">60.00</text>
<text x="2494.3" y="1188.1" font-size="12.4" fill="#131722">40.00</text>
</g>
<rect x="2486" y="0" width="74" height="32.6" fill="#ffffff"/>
<rect x="2485.5" y="89.2" width="62.3" height="18" rx="2" fill="#2962ff"/>
<text x="2493.20" y="102.7" font-size="13" font-weight="normal" fill="#ffffff" textLength="50.40" lengthAdjust="spacingAndGlyphs" stroke="#ffffff" stroke-width="0.35">6,939.15</text>
<rect x="2485.5" y="113.4" width="62.3" height="33" rx="2" fill="#ef5350"/>
<text x="2493.20" y="126.9" font-size="13" font-weight="normal" fill="#ffffff" textLength="50.40" lengthAdjust="spacingAndGlyphs" stroke="#ffffff" stroke-width="0.35">6,506.49</text>
<text x="2493.89" y="142" font-size="13" font-weight="normal" fill="#ffffff" textLength="43.95" lengthAdjust="spacingAndGlyphs" stroke="#ffffff" stroke-width="0.2">10d 5h</text>
<rect x="2456" y="113.4" width="28.5" height="18" rx="2" fill="#ef5350"/>
<text x="2458.60" y="126.9" font-size="12.5" font-weight="normal" fill="#ffffff" textLength="22.41" lengthAdjust="spacingAndGlyphs" >SPX</text>
<rect x="2485.5" y="146.4" width="62.3" height="35.6" rx="2" fill="#673ab7"/>
<text x="2493.20" y="159.4" font-size="13" font-weight="normal" fill="#ffffff" textLength="50.40" lengthAdjust="spacingAndGlyphs" stroke="#ffffff" stroke-width="0.35">6,147.61</text>
<text x="2493.20" y="177.2" font-size="13" font-weight="normal" fill="#ffffff" textLength="50.40" lengthAdjust="spacingAndGlyphs" stroke="#ffffff" stroke-width="0.35">6,101.13</text>
<rect x="2485.5" y="226.8" width="62.3" height="18" rx="2" fill="#673ab7"/>
<text x="2494.20" y="240.3" font-size="13" font-weight="normal" fill="#ffffff" textLength="49.39" lengthAdjust="spacingAndGlyphs" stroke="#ffffff" stroke-width="0.35">4,814.17</text>
<rect x="2485.5" y="520.5" width="62.3" height="35.6" rx="2" fill="#673ab7"/>
<text x="2493.20" y="533.8" font-size="13" font-weight="normal" fill="#ffffff" textLength="50.40" lengthAdjust="spacingAndGlyphs" stroke="#ffffff" stroke-width="0.35">2,205.89</text>
<text x="2493.20" y="551.5" font-size="13" font-weight="normal" fill="#ffffff" textLength="50.40" lengthAdjust="spacingAndGlyphs" stroke="#ffffff" stroke-width="0.35">2,146.45</text>
<rect x="2485.5" y="657.6" width="62.3" height="18" rx="2" fill="#9c27b0"/>
<text x="2493.20" y="671.1" font-size="13" font-weight="normal" fill="#ffffff" textLength="50.40" lengthAdjust="spacingAndGlyphs" stroke="#ffffff" stroke-width="0.35">1,530.81</text>
<rect x="2485.8" y="915.5" width="51" height="18" rx="2" fill="#9c27b0"/>
<text x="2494.04" y="929.2" font-size="13" font-weight="normal" fill="#ffffff" textLength="38.30" lengthAdjust="spacingAndGlyphs" stroke="#ffffff" stroke-width="0.35">772.39</text>
<rect x="2490.5" y="4.5" width="64" height="24.5" rx="4" fill="#ffffff" stroke="#e9ebf0"/>
<text x="2492.16" y="20.8" font-size="12.5" font-weight="normal" fill="#131722" textLength="22.18" lengthAdjust="spacingAndGlyphs" >USD</text>
<path d="M2546 15.5l2.6 2.6 2.6-2.6" stroke="#131722" stroke-width="1.3" fill="none"/>
<defs><clipPath id="ct"><rect x="0" y="1212" width="2485.3" height="26"/></clipPath></defs><g clip-path="url(#ct)">
<text x="19.5" y="1230.8" font-size="12.4" fill="#131722" text-anchor="middle" textLength="28.5" lengthAdjust="spacingAndGlyphs" stroke="#131722" stroke-width="0.25">2000</text>
<text x="93.9" y="1230.8" font-size="12.4" fill="#131722" text-anchor="middle" textLength="28.5" lengthAdjust="spacingAndGlyphs" stroke="#131722" stroke-width="0.25">2001</text>
<text x="168.3" y="1230.8" font-size="12.4" fill="#131722" text-anchor="middle" textLength="28.5" lengthAdjust="spacingAndGlyphs" stroke="#131722" stroke-width="0.25">2002</text>
<text x="242.7" y="1230.8" font-size="12.4" fill="#131722" text-anchor="middle" textLength="28.5" lengthAdjust="spacingAndGlyphs" stroke="#131722" stroke-width="0.25">2003</text>
<text x="317.1" y="1230.8" font-size="12.4" fill="#131722" text-anchor="middle" textLength="28.5" lengthAdjust="spacingAndGlyphs" stroke="#131722" stroke-width="0.25">2004</text>
<text x="391.4" y="1230.8" font-size="12.4" fill="#131722" text-anchor="middle" textLength="28.5" lengthAdjust="spacingAndGlyphs" stroke="#131722" stroke-width="0.25">2005</text>
<text x="465.8" y="1230.8" font-size="12.4" fill="#131722" text-anchor="middle" textLength="28.5" lengthAdjust="spacingAndGlyphs" stroke="#131722" stroke-width="0.25">2006</text>
<text x="540.2" y="1230.8" font-size="12.4" fill="#131722" text-anchor="middle" textLength="28.5" lengthAdjust="spacingAndGlyphs" stroke="#131722" stroke-width="0.25">2007</text>
<text x="614.6" y="1230.8" font-size="12.4" fill="#131722" text-anchor="middle" textLength="28.5" lengthAdjust="spacingAndGlyphs" stroke="#131722" stroke-width="0.25">2008</text>
<text x="689.0" y="1230.8" font-size="12.4" fill="#131722" text-anchor="middle" textLength="28.5" lengthAdjust="spacingAndGlyphs" stroke="#131722" stroke-width="0.25">2009</text>
<text x="763.4" y="1230.8" font-size="12.4" fill="#131722" text-anchor="middle" textLength="28.5" lengthAdjust="spacingAndGlyphs" stroke="#131722" stroke-width="0.25">2010</text>
<text x="837.8" y="1230.8" font-size="12.4" fill="#131722" text-anchor="middle" textLength="28.5" lengthAdjust="spacingAndGlyphs" stroke="#131722" stroke-width="0.25">2011</text>
<text x="912.2" y="1230.8" font-size="12.4" fill="#131722" text-anchor="middle" textLength="28.5" lengthAdjust="spacingAndGlyphs" stroke="#131722" stroke-width="0.25">2012</text>
<text x="986.5" y="1230.8" font-size="12.4" fill="#131722" text-anchor="middle" textLength="28.5" lengthAdjust="spacingAndGlyphs" stroke="#131722" stroke-width="0.25">2013</text>
<text x="1060.9" y="1230.8" font-size="12.4" fill="#131722" text-anchor="middle" textLength="28.5" lengthAdjust="spacingAndGlyphs" stroke="#131722" stroke-width="0.25">2014</text>
<text x="1135.3" y="1230.8" font-size="12.4" fill="#131722" text-anchor="middle" textLength="28.5" lengthAdjust="spacingAndGlyphs" stroke="#131722" stroke-width="0.25">2015</text>
<text x="1209.7" y="1230.8" font-size="12.4" fill="#131722" text-anchor="middle" textLength="28.5" lengthAdjust="spacingAndGlyphs" stroke="#131722" stroke-width="0.25">2016</text>
<text x="1284.1" y="1230.8" font-size="12.4" fill="#131722" text-anchor="middle" textLength="28.5" lengthAdjust="spacingAndGlyphs" stroke="#131722" stroke-width="0.25">2017</text>
<text x="1358.5" y="1230.8" font-size="12.4" fill="#131722" text-anchor="middle" textLength="28.5" lengthAdjust="spacingAndGlyphs" stroke="#131722" stroke-width="0.25">2018</text>
<text x="1432.9" y="1230.8" font-size="12.4" fill="#131722" text-anchor="middle" textLength="28.5" lengthAdjust="spacingAndGlyphs" stroke="#131722" stroke-width="0.25">2019</text>
<text x="1507.3" y="1230.8" font-size="12.4" fill="#131722" text-anchor="middle" textLength="28.5" lengthAdjust="spacingAndGlyphs" stroke="#131722" stroke-width="0.25">2020</text>
<text x="1581.6" y="1230.8" font-size="12.4" fill="#131722" text-anchor="middle" textLength="28.5" lengthAdjust="spacingAndGlyphs" stroke="#131722" stroke-width="0.25">2021</text>
<text x="1656.0" y="1230.8" font-size="12.4" fill="#131722" text-anchor="middle" textLength="28.5" lengthAdjust="spacingAndGlyphs" stroke="#131722" stroke-width="0.25">2022</text>
<text x="1730.4" y="1230.8" font-size="12.4" fill="#131722" text-anchor="middle" textLength="28.5" lengthAdjust="spacingAndGlyphs" stroke="#131722" stroke-width="0.25">2023</text>
<text x="1804.8" y="1230.8" font-size="12.4" fill="#131722" text-anchor="middle" textLength="28.5" lengthAdjust="spacingAndGlyphs" stroke="#131722" stroke-width="0.25">2024</text>
<text x="1879.2" y="1230.8" font-size="12.4" fill="#131722" text-anchor="middle" textLength="28.5" lengthAdjust="spacingAndGlyphs" stroke="#131722" stroke-width="0.25">2025</text>
<text x="1953.6" y="1230.8" font-size="12.4" fill="#131722" text-anchor="middle" textLength="28.5" lengthAdjust="spacingAndGlyphs" stroke="#131722" stroke-width="0.25">2026</text>
<text x="2028.0" y="1230.8" font-size="12.4" fill="#131722" text-anchor="middle" textLength="28.5" lengthAdjust="spacingAndGlyphs" stroke="#131722" stroke-width="0.25">2027</text>
<text x="2102.4" y="1230.8" font-size="12.4" fill="#131722" text-anchor="middle" textLength="28.5" lengthAdjust="spacingAndGlyphs" stroke="#131722" stroke-width="0.25">2028</text>
<text x="2176.8" y="1230.8" font-size="12.4" fill="#131722" text-anchor="middle" textLength="28.5" lengthAdjust="spacingAndGlyphs" stroke="#131722" stroke-width="0.25">2029</text>
<text x="2251.1" y="1230.8" font-size="12.4" fill="#131722" text-anchor="middle" textLength="28.5" lengthAdjust="spacingAndGlyphs" stroke="#131722" stroke-width="0.25">2030</text>
<text x="2325.5" y="1230.8" font-size="12.4" fill="#131722" text-anchor="middle" textLength="28.5" lengthAdjust="spacingAndGlyphs" stroke="#131722" stroke-width="0.25">2031</text>
<text x="2399.9" y="1230.8" font-size="12.4" fill="#131722" text-anchor="middle" textLength="28.5" lengthAdjust="spacingAndGlyphs" stroke="#131722" stroke-width="0.25">2032</text>
<text x="2474.3" y="1230.8" font-size="12.4" fill="#131722" text-anchor="middle" textLength="28.5" lengthAdjust="spacingAndGlyphs" stroke="#131722" stroke-width="0.25">2033</text>
</g>
<path d="M2514.9 1226.2 L2518.7 1219.9 L2526.3 1219.9 L2530.1 1226.2 L2526.3 1232.5 L2518.7 1232.5 Z" fill="none" stroke="#131722" stroke-width="1.2"/><circle cx="2522.5" cy="1226.2" r="2.3" fill="none" stroke="#131722" stroke-width="1.2"/>
<circle cx="18.6" cy="16.3" r="9.4" fill="#c8172f"/>
<text x="18.6" y="19.2" font-size="8.6" font-weight="bold" fill="#ffe9ec" text-anchor="middle" textLength="13.6" lengthAdjust="spacingAndGlyphs">500</text>
<text x="31.39" y="21.9" font-size="16.5" font-weight="normal" fill="#131722" textLength="198.58" lengthAdjust="spacingAndGlyphs" >S&amp;P 500 Index · 1M · SPCFD</text>
<circle cx="247" cy="16.2" r="8.6" fill="#ebebeb"/><rect x="242" y="15" width="10" height="2.6" rx="1" fill="#a3a3a3"/>
<text x="264.29" y="20.6" font-size="12.8" font-weight="normal" fill="#131722" textLength="9.08" lengthAdjust="spacingAndGlyphs" >O</text>
<text x="274.43" y="20.6" font-size="12.8" font-weight="normal" fill="#ef5350" textLength="53.36" lengthAdjust="spacingAndGlyphs" >6,824.36</text>
<text x="333.64" y="20.6" font-size="12.8" font-weight="normal" fill="#131722" textLength="9.78" lengthAdjust="spacingAndGlyphs" >H</text>
<text x="343.45" y="20.6" font-size="12.8" font-weight="normal" fill="#ef5350" textLength="52.22" lengthAdjust="spacingAndGlyphs" >6,901.01</text>
<text x="402.42" y="20.6" font-size="12.8" font-weight="normal" fill="#131722" textLength="7.01" lengthAdjust="spacingAndGlyphs" >L</text>
<text x="409.82" y="20.6" font-size="12.8" font-weight="normal" fill="#ef5350" textLength="53.57" lengthAdjust="spacingAndGlyphs" >6,473.52</text>
<text x="468.89" y="20.6" font-size="12.8" font-weight="normal" fill="#131722" textLength="9.38" lengthAdjust="spacingAndGlyphs" >C</text>
<text x="477.83" y="20.6" font-size="12.8" font-weight="normal" fill="#ef5350" textLength="53.15" lengthAdjust="spacingAndGlyphs" >6,506.49</text>
<text x="537.29" y="20.6" font-size="12.8" font-weight="normal" fill="#ef5350" textLength="46.94" lengthAdjust="spacingAndGlyphs" >−372.40</text>
<text x="588.82" y="20.6" font-size="12.8" font-weight="normal" fill="#ef5350" textLength="51.26" lengthAdjust="spacingAndGlyphs" >(−5.41%)</text>
<rect x="10.5" y="33" width="74" height="34.3" rx="5" fill="#ffffff" stroke="#f4a3aa"/>
<text x="19.82" y="46.8" font-size="11.6" font-weight="normal" fill="#e0394a" textLength="53.35" lengthAdjust="spacingAndGlyphs" stroke="#e0394a" stroke-width="0.3">6,506.49</text>
<text x="33.77" y="60.8" font-size="11" font-weight="normal" fill="#e0394a" textLength="25.06" lengthAdjust="spacingAndGlyphs" >SELL</text>
<text x="92.90" y="53.8" font-size="11" font-weight="normal" fill="#2a2e39" textLength="20.71" lengthAdjust="spacingAndGlyphs" >0.00</text>
<rect x="121.5" y="33" width="75.3" height="34.3" rx="5" fill="#ffffff" stroke="#a6bcf5"/>
<text x="131.92" y="46.8" font-size="11.6" font-weight="normal" fill="#2962ff" textLength="53.35" lengthAdjust="spacingAndGlyphs" stroke="#2962ff" stroke-width="0.3">6,506.49</text>
<text x="148.17" y="60.8" font-size="11" font-weight="normal" fill="#2962ff" textLength="21.12" lengthAdjust="spacingAndGlyphs" >BUY</text>
<text x="8.80" y="89.8" font-size="12.6" font-weight="normal" fill="#b8bac0" textLength="108.02" lengthAdjust="spacingAndGlyphs" >BB 20 SMA close 2</text>
<g fill="none" stroke-linecap="round"><path d="M127.2 85.5 C129.2 81.3 132.2 79.7 135.2 79.7 C138.2 79.7 141.2 81.3 143.2 85.5 C141.2 89.7 138.2 91.1 135.2 91.1 C132.2 91.1 129.2 89.7 127.2 85.5Z" stroke="#131722" stroke-width="1.1"/><circle cx="135.2" cy="85.5" r="2.9" stroke="#131722" stroke-width="1.1"/><path d="M129.5 90.8 L140.8 79.7" stroke="#ffffff" stroke-width="3.2"/><path d="M129.5 90.8 L140.8 79.7" stroke="#131722" stroke-width="1.2"/></g>
<text x="8.20" y="114.5" font-size="12.6" font-weight="normal" fill="#131722" textLength="96.30" lengthAdjust="spacingAndGlyphs" >MA Cross 20 100</text>
<text x="111.74" y="114.5" font-size="12.6" font-weight="normal" fill="#7e57c2" textLength="52.20" lengthAdjust="spacingAndGlyphs" >6,233.51</text>
<text x="171.40" y="114.5" font-size="12.6" font-weight="normal" fill="#fdd835" textLength="53.03" lengthAdjust="spacingAndGlyphs" >4,227.05</text>
<text x="229.84" y="114.5" font-size="12.6" font-weight="normal" fill="#131722" textLength="10.41" lengthAdjust="spacingAndGlyphs" >Ø</text>
<text x="8.64" y="139.8" font-size="12.6" font-weight="normal" fill="#131722" textLength="120.11" lengthAdjust="spacingAndGlyphs" >Ichimoku 9 26 52 26</text>
<circle cx="146.6" cy="135.2" r="8" fill="#efe9fb"/><path d="M141.8 134.3 a4.9 4.9 0 0 1 9.3-1.6 M151.4 136.1 a4.9 4.9 0 0 1 -9.3 1.6" fill="none" stroke="#b39ddb" stroke-width="1.6"/><path d="M151.5 130.2 l0.3 3.6 -3.4 -0.6z M141.7 140.2 l-0.3 -3.6 3.4 0.6z" fill="#b39ddb"/>
<text x="8.20" y="164.7" font-size="12.6" font-weight="normal" fill="#131722" textLength="96.30" lengthAdjust="spacingAndGlyphs" >MA Cross 50 200</text>
<text x="112.25" y="164.7" font-size="12.6" font-weight="normal" fill="#f23645" textLength="51.69" lengthAdjust="spacingAndGlyphs" >5,149.01</text>
<text x="170.82" y="164.7" font-size="12.6" font-weight="normal" fill="#2962ff" textLength="53.12" lengthAdjust="spacingAndGlyphs" >2,967.83</text>
<text x="229.84" y="164.7" font-size="12.6" font-weight="normal" fill="#131722" textLength="10.41" lengthAdjust="spacingAndGlyphs" >Ø</text>
<text x="9.80" y="189.8" font-size="12.6" font-weight="normal" fill="#b8bac0" textLength="144.95" lengthAdjust="spacingAndGlyphs" >VP 200 500 50 30 2 Both</text>
<g fill="none" stroke-linecap="round"><path d="M165.5 185.5 C167.5 181.3 170.5 179.7 173.5 179.7 C176.5 179.7 179.5 181.3 181.5 185.5 C179.5 189.7 176.5 191.1 173.5 191.1 C170.5 191.1 167.5 189.7 165.5 185.5Z" stroke="#131722" stroke-width="1.1"/><circle cx="173.5" cy="185.5" r="2.9" stroke="#131722" stroke-width="1.1"/><path d="M167.8 190.8 L179.2 179.7" stroke="#ffffff" stroke-width="3.2"/><path d="M167.8 190.8 L179.2 179.7" stroke="#131722" stroke-width="1.2"/></g>
<rect x="10.5" y="201.5" width="28" height="20" rx="3" fill="#ffffff" stroke="#e6e8ee"/><path d="M20.3 214l4.4-3.9 4.4 3.9" stroke="#131722" stroke-width="1.6" fill="none"/>
<text x="8.92" y="1100.6" font-size="12.6" font-weight="normal" fill="#131722" textLength="70.18" lengthAdjust="spacingAndGlyphs" >RSI 14 close</text>
<circle cx="97.3" cy="1096.2" r="7.8" fill="#efe9fb"/><path d="M92.5 1095.3 a4.9 4.9 0 0 1 9.3-1.6 M102.1 1097.1 a4.9 4.9 0 0 1 -9.3 1.6" fill="none" stroke="#b39ddb" stroke-width="1.6"/><path d="M102.2 1091.2 l0.3 3.6 -3.4 -0.6z M92.4 1101.2 l-0.3 -3.6 3.4 0.6z" fill="#b39ddb"/>
<text x="114.31" y="1100.6" font-size="12.6" font-weight="normal" fill="#7e57c2" textLength="34.35" lengthAdjust="spacingAndGlyphs" >62.04</text>
<text x="153.31" y="1100.6" font-size="12.6" font-weight="normal" fill="#fdd835" textLength="34.35" lengthAdjust="spacingAndGlyphs" >69.57</text>
<text x="194.15" y="1100.6" font-size="12.6" font-weight="normal" fill="#131722" textLength="8.33" lengthAdjust="spacingAndGlyphs" >Ø</text>
<text x="209.75" y="1100.6" font-size="12.6" font-weight="normal" fill="#131722" textLength="8.33" lengthAdjust="spacingAndGlyphs" >Ø</text>
<text x="224.79" y="1100.6" font-size="12.6" font-weight="normal" fill="#131722" textLength="8.94" lengthAdjust="spacingAndGlyphs" >Ø</text>
<text x="240.39" y="1100.6" font-size="12.6" font-weight="normal" fill="#131722" textLength="8.94" lengthAdjust="spacingAndGlyphs" >Ø</text>
</svg>
</body></html>
